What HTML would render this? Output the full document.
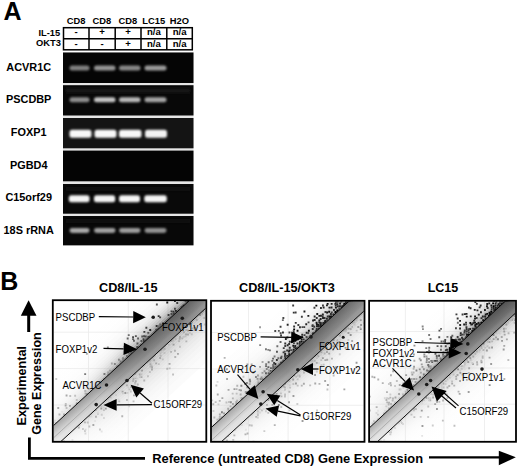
<!DOCTYPE html>
<html><head><meta charset="utf-8"><style>
html,body{margin:0;padding:0;background:#fff;width:520px;height:467px;overflow:hidden}
svg{display:block}
text{font-family:"Liberation Sans", sans-serif;fill:#000}
</style></head><body>
<svg width="520" height="467" viewBox="0 0 520 467">
<rect width="520" height="467" fill="#fff"/>
<text x="3.6" y="19.6" font-size="25" font-weight="bold">A</text>
<text x="76.0" y="24.2" font-size="9.35" font-weight="bold" text-anchor="middle">CD8</text>
<text x="101.9" y="24.2" font-size="9.35" font-weight="bold" text-anchor="middle">CD8</text>
<text x="127.9" y="24.2" font-size="9.35" font-weight="bold" text-anchor="middle">CD8</text>
<text x="153.7" y="24.2" font-size="9.35" font-weight="bold" text-anchor="middle">LC15</text>
<text x="179.4" y="24.2" font-size="9.35" font-weight="bold" text-anchor="middle">H2O</text>
<text x="60.2" y="35.5" font-size="9.3" font-weight="bold" text-anchor="end">IL-15</text>
<text x="61" y="46.4" font-size="9.35" font-weight="bold" text-anchor="end">OKT3</text>
<g stroke="#000" stroke-width="1.5" fill="none">
<rect x="63.5" y="27.7" width="128.8" height="22.1"/>
<line x1="63.5" y1="38.7" x2="192.3" y2="38.7"/>
<line x1="89" y1="27.7" x2="89" y2="49.8"/>
<line x1="115.2" y1="27.7" x2="115.2" y2="49.8"/>
<line x1="141" y1="27.7" x2="141" y2="49.8"/>
<line x1="166.8" y1="27.7" x2="166.8" y2="49.8"/>
</g>
<text x="76.2" y="35.4" font-size="9.6" font-weight="bold" text-anchor="middle">-</text>
<text x="76.2" y="46.8" font-size="9.6" font-weight="bold" text-anchor="middle">-</text>
<text x="102.1" y="35.4" font-size="9.6" font-weight="bold" text-anchor="middle">+</text>
<text x="102.1" y="46.8" font-size="9.6" font-weight="bold" text-anchor="middle">-</text>
<text x="128.1" y="35.4" font-size="9.6" font-weight="bold" text-anchor="middle">+</text>
<text x="128.1" y="46.8" font-size="9.6" font-weight="bold" text-anchor="middle">+</text>
<text x="153.9" y="35.4" font-size="9.6" font-weight="bold" text-anchor="middle">n/a</text>
<text x="153.9" y="46.8" font-size="9.6" font-weight="bold" text-anchor="middle">n/a</text>
<text x="179.6" y="35.4" font-size="9.6" font-weight="bold" text-anchor="middle">n/a</text>
<text x="179.6" y="46.8" font-size="9.6" font-weight="bold" text-anchor="middle">n/a</text>
<rect x="63" y="52" width="130.5" height="194" fill="#e6e6e6"/>
<rect x="63" y="52.5" width="130.5" height="30.5" fill="#050505"/>
<rect x="63" y="85.2" width="130.5" height="30.3" fill="#080808"/>
<rect x="63" y="118" width="130.5" height="30.3" fill="#141414"/>
<rect x="63" y="150.6" width="130.5" height="30.7" fill="#040404"/>
<rect x="63" y="184" width="130.5" height="29.7" fill="#090909"/>
<rect x="63" y="216" width="130.5" height="29.3" fill="#080808"/>
<defs><filter id="bl" x="-30%" y="-100%" width="160%" height="300%"><feGaussianBlur stdDeviation="0.9"/></filter><filter id="bl2" x="-30%" y="-100%" width="160%" height="300%"><feGaussianBlur stdDeviation="1.6"/></filter></defs>
<rect x="69.5" y="65.5" width="20.0" height="5.0" rx="2.5" fill="#808080" filter="url(#bl)"/>
<rect x="94" y="65.5" width="21.5" height="5.0" rx="2.5" fill="#949494" filter="url(#bl)"/>
<rect x="119" y="65.5" width="21.5" height="5.0" rx="2.5" fill="#888888" filter="url(#bl)"/>
<rect x="144.5" y="65.5" width="22.0" height="5.0" rx="2.5" fill="#9c9c9c" filter="url(#bl)"/>
<rect x="69.5" y="97.3" width="20.0" height="5.0" rx="2.5" fill="#8c8c8c" filter="url(#bl)"/>
<rect x="94" y="97.3" width="21.5" height="5.0" rx="2.5" fill="#c4c4c4" filter="url(#bl)"/>
<rect x="119" y="97.3" width="21.5" height="5.0" rx="2.5" fill="#b8b8b8" filter="url(#bl)"/>
<rect x="144.5" y="97.3" width="22.0" height="5.0" rx="2.5" fill="#a4a4a4" filter="url(#bl)"/>
<rect x="69.5" y="129.8" width="22.0" height="8.0" rx="2.5" fill="#f8f8f8" filter="url(#bl)"/>
<rect x="94.5" y="129.8" width="22.0" height="8.0" rx="2.5" fill="#f8f8f8" filter="url(#bl)"/>
<rect x="119" y="129.8" width="22.5" height="8.0" rx="2.5" fill="#f8f8f8" filter="url(#bl)"/>
<rect x="145" y="129.8" width="22" height="8.0" rx="2.5" fill="#f2f2f2" filter="url(#bl)"/>
<rect x="68.8" y="195.3" width="20.700000000000003" height="7.0" rx="2.5" fill="#f4f4f4" filter="url(#bl)"/>
<rect x="94" y="195.3" width="21.200000000000003" height="7.0" rx="2.5" fill="#f4f4f4" filter="url(#bl)"/>
<rect x="119" y="195.3" width="21" height="7.0" rx="2.5" fill="#f4f4f4" filter="url(#bl)"/>
<rect x="144.3" y="195.3" width="22.5" height="7.0" rx="2.5" fill="#f4f4f4" filter="url(#bl)"/>
<rect x="69.5" y="228.1" width="20.0" height="4.8" rx="2.5" fill="#a8a8a8" filter="url(#bl)"/>
<rect x="94" y="228.1" width="21.5" height="4.8" rx="2.5" fill="#a0a0a0" filter="url(#bl)"/>
<rect x="119" y="228.1" width="21.5" height="4.8" rx="2.5" fill="#9c9c9c" filter="url(#bl)"/>
<rect x="144.5" y="228.1" width="22.0" height="4.8" rx="2.5" fill="#909090" filter="url(#bl)"/>
<rect x="66" y="88.5" width="124" height="4" fill="#1c1c1c" filter="url(#bl2)"/>
<rect x="66" y="187" width="124" height="3.5" fill="#111" filter="url(#bl2)"/>
<rect x="66" y="219" width="124" height="3.5" fill="#101010" filter="url(#bl2)"/>
<text x="28.7" y="70.6" font-size="10.9" font-weight="bold" text-anchor="middle">ACVR1C</text>
<text x="28.7" y="103.1" font-size="10.9" font-weight="bold" text-anchor="middle">PSCDBP</text>
<text x="28.7" y="136" font-size="10.9" font-weight="bold" text-anchor="middle">FOXP1</text>
<text x="28.7" y="168.5" font-size="10.9" font-weight="bold" text-anchor="middle">PGBD4</text>
<text x="28.7" y="201.3" font-size="10.9" font-weight="bold" text-anchor="middle">C15orf29</text>
<text x="28.7" y="233.5" font-size="10.9" font-weight="bold" text-anchor="middle">18S rRNA</text>
<text x="0.3" y="290" font-size="25" font-weight="bold">B</text>
<text x="128.3" y="291.6" font-size="12.7" font-weight="bold" text-anchor="middle">CD8/IL-15</text>
<text x="287" y="291.7" font-size="12.7" font-weight="bold" text-anchor="middle">CD8/IL-15/OKT3</text>
<text x="443" y="291.6" font-size="12.5" font-weight="bold" text-anchor="middle">LC15</text>
<polygon points="28.6,300.3 20.8,315.7 36.5,315.7" fill="#000"/>
<rect x="27.2" y="314" width="3" height="18" fill="#000"/>
<text transform="translate(25.6,425.4) rotate(-90)" font-size="12.65" font-weight="bold">Experimental</text>
<text transform="translate(41.3,434.8) rotate(-90)" font-size="12.55" font-weight="bold">Gene Expression</text>
<path d="M29.4,437.6 V458.3 H145" stroke="#000" stroke-width="2.8" fill="none"/>
<text x="152.2" y="462.5" font-size="12.86" font-weight="bold">Reference (untreated CD8) Gene Expression</text>
<line x1="429" y1="457.3" x2="500" y2="457.3" stroke="#000" stroke-width="2.2"/>
<polygon points="498.8,450.8 515.8,457.3 498.8,465.3" fill="#000"/>
<clipPath id="clip1"><rect x="53.6" y="301" width="151.9" height="140"/></clipPath>
<rect x="53.6" y="301" width="151.9" height="140" fill="#fff"/>
<g clip-path="url(#clip1)">
<line x1="88.5" y1="301" x2="88.5" y2="441" stroke="#ebebeb" stroke-width="0.8"/>
<line x1="128.3" y1="301" x2="128.3" y2="441" stroke="#ebebeb" stroke-width="0.8"/>
<line x1="168" y1="301" x2="168" y2="441" stroke="#ebebeb" stroke-width="0.8"/>
<line x1="53.6" y1="332.2" x2="205.5" y2="332.2" stroke="#ebebeb" stroke-width="0.8"/>
<line x1="53.6" y1="368.6" x2="205.5" y2="368.6" stroke="#ebebeb" stroke-width="0.8"/>
<line x1="53.6" y1="405" x2="205.5" y2="405" stroke="#ebebeb" stroke-width="0.8"/>
<linearGradient id="gu1h0" gradientUnits="userSpaceOnUse" x1="53.6" y1="441" x2="205.5" y2="301"><stop offset="0" stop-color="#dcdcdc" stop-opacity="0.500"/><stop offset="0.3" stop-color="#bcbcbc" stop-opacity="0.750"/><stop offset="0.55" stop-color="#858585" stop-opacity="0.950"/><stop offset="0.8" stop-color="#707070" stop-opacity="0.950"/><stop offset="1" stop-color="#707070" stop-opacity="0.950"/></linearGradient>
<polygon points="30.6,450.7 232.5,264.9 229.1,261.3 27.2,447.0" fill="url(#gu1h0)"/>
<linearGradient id="gu1h1" gradientUnits="userSpaceOnUse" x1="53.6" y1="441" x2="205.5" y2="301"><stop offset="0" stop-color="#dcdcdc" stop-opacity="0.358"/><stop offset="0.3" stop-color="#bcbcbc" stop-opacity="0.489"/><stop offset="0.55" stop-color="#858585" stop-opacity="0.619"/><stop offset="0.8" stop-color="#707070" stop-opacity="0.619"/><stop offset="1" stop-color="#707070" stop-opacity="0.619"/></linearGradient>
<polygon points="27.2,447.0 229.1,261.3 227.8,259.8 25.9,445.5" fill="url(#gu1h1)"/>
<linearGradient id="gu1h2" gradientUnits="userSpaceOnUse" x1="53.6" y1="441" x2="205.5" y2="301"><stop offset="0" stop-color="#dcdcdc" stop-opacity="0.287"/><stop offset="0.3" stop-color="#bcbcbc" stop-opacity="0.367"/><stop offset="0.55" stop-color="#858585" stop-opacity="0.465"/><stop offset="0.8" stop-color="#707070" stop-opacity="0.465"/><stop offset="1" stop-color="#707070" stop-opacity="0.465"/></linearGradient>
<polygon points="25.9,445.5 227.8,259.8 226.4,258.3 24.5,444.1" fill="url(#gu1h2)"/>
<linearGradient id="gu1h3" gradientUnits="userSpaceOnUse" x1="53.6" y1="441" x2="205.5" y2="301"><stop offset="0" stop-color="#dcdcdc" stop-opacity="0.230"/><stop offset="0.3" stop-color="#bcbcbc" stop-opacity="0.276"/><stop offset="0.55" stop-color="#858585" stop-opacity="0.349"/><stop offset="0.8" stop-color="#707070" stop-opacity="0.349"/><stop offset="1" stop-color="#707070" stop-opacity="0.349"/></linearGradient>
<polygon points="24.5,444.1 226.4,258.3 225.1,256.9 23.2,442.6" fill="url(#gu1h3)"/>
<linearGradient id="gu1h4" gradientUnits="userSpaceOnUse" x1="53.6" y1="441" x2="205.5" y2="301"><stop offset="0" stop-color="#dcdcdc" stop-opacity="0.184"/><stop offset="0.3" stop-color="#bcbcbc" stop-opacity="0.207"/><stop offset="0.55" stop-color="#858585" stop-opacity="0.263"/><stop offset="0.8" stop-color="#707070" stop-opacity="0.263"/><stop offset="1" stop-color="#707070" stop-opacity="0.263"/></linearGradient>
<polygon points="23.2,442.6 225.1,256.9 223.7,255.4 21.8,441.1" fill="url(#gu1h4)"/>
<linearGradient id="gu1h5" gradientUnits="userSpaceOnUse" x1="53.6" y1="441" x2="205.5" y2="301"><stop offset="0" stop-color="#dcdcdc" stop-opacity="0.147"/><stop offset="0.3" stop-color="#bcbcbc" stop-opacity="0.156"/><stop offset="0.55" stop-color="#858585" stop-opacity="0.197"/><stop offset="0.8" stop-color="#707070" stop-opacity="0.197"/><stop offset="1" stop-color="#707070" stop-opacity="0.197"/></linearGradient>
<polygon points="21.8,441.1 223.7,255.4 222.4,253.9 20.5,439.7" fill="url(#gu1h5)"/>
<linearGradient id="gu1h6" gradientUnits="userSpaceOnUse" x1="53.6" y1="441" x2="205.5" y2="301"><stop offset="0" stop-color="#dcdcdc" stop-opacity="0.118"/><stop offset="0.3" stop-color="#bcbcbc" stop-opacity="0.117"/><stop offset="0.55" stop-color="#858585" stop-opacity="0.148"/><stop offset="0.8" stop-color="#707070" stop-opacity="0.148"/><stop offset="1" stop-color="#707070" stop-opacity="0.148"/></linearGradient>
<polygon points="20.5,439.7 222.4,253.9 221.0,252.4 19.1,438.2" fill="url(#gu1h6)"/>
<linearGradient id="gu1h7" gradientUnits="userSpaceOnUse" x1="53.6" y1="441" x2="205.5" y2="301"><stop offset="0" stop-color="#dcdcdc" stop-opacity="0.089"/><stop offset="0.3" stop-color="#bcbcbc" stop-opacity="0.082"/><stop offset="0.55" stop-color="#858585" stop-opacity="0.104"/><stop offset="0.8" stop-color="#707070" stop-opacity="0.104"/><stop offset="1" stop-color="#707070" stop-opacity="0.104"/></linearGradient>
<polygon points="19.1,438.2 221.0,252.4 219.0,250.2 17.1,436.0" fill="url(#gu1h7)"/>
<linearGradient id="gu1h8" gradientUnits="userSpaceOnUse" x1="53.6" y1="441" x2="205.5" y2="301"><stop offset="0" stop-color="#dcdcdc" stop-opacity="0.064"/><stop offset="0.3" stop-color="#bcbcbc" stop-opacity="0.053"/><stop offset="0.55" stop-color="#858585" stop-opacity="0.068"/><stop offset="0.8" stop-color="#707070" stop-opacity="0.068"/><stop offset="1" stop-color="#707070" stop-opacity="0.068"/></linearGradient>
<polygon points="17.1,436.0 219.0,250.2 217.0,248.0 15.1,433.8" fill="url(#gu1h8)"/>
<linearGradient id="gu1h9" gradientUnits="userSpaceOnUse" x1="53.6" y1="441" x2="205.5" y2="301"><stop offset="0" stop-color="#dcdcdc" stop-opacity="0.043"/><stop offset="0.3" stop-color="#bcbcbc" stop-opacity="0.032"/><stop offset="0.55" stop-color="#858585" stop-opacity="0.041"/><stop offset="0.8" stop-color="#707070" stop-opacity="0.041"/><stop offset="1" stop-color="#707070" stop-opacity="0.041"/></linearGradient>
<polygon points="15.1,433.8 217.0,248.0 214.3,245.1 12.4,430.8" fill="url(#gu1h9)"/>
<linearGradient id="gu1h10" gradientUnits="userSpaceOnUse" x1="53.6" y1="441" x2="205.5" y2="301"><stop offset="0" stop-color="#dcdcdc" stop-opacity="0.028"/><stop offset="0.3" stop-color="#bcbcbc" stop-opacity="0.018"/><stop offset="0.55" stop-color="#858585" stop-opacity="0.023"/><stop offset="0.8" stop-color="#707070" stop-opacity="0.023"/><stop offset="1" stop-color="#707070" stop-opacity="0.023"/></linearGradient>
<polygon points="12.4,430.8 214.3,245.1 211.5,242.1 9.6,427.9" fill="url(#gu1h10)"/>
<linearGradient id="gu1h11" gradientUnits="userSpaceOnUse" x1="53.6" y1="441" x2="205.5" y2="301"><stop offset="0" stop-color="#dcdcdc" stop-opacity="0.017"/><stop offset="0.3" stop-color="#bcbcbc" stop-opacity="0.010"/><stop offset="0.55" stop-color="#858585" stop-opacity="0.012"/><stop offset="0.8" stop-color="#707070" stop-opacity="0.012"/><stop offset="1" stop-color="#707070" stop-opacity="0.012"/></linearGradient>
<polygon points="9.6,427.9 211.5,242.1 208.2,238.5 6.3,424.2" fill="url(#gu1h11)"/>
<linearGradient id="gu1h12" gradientUnits="userSpaceOnUse" x1="53.6" y1="441" x2="205.5" y2="301"><stop offset="0" stop-color="#dcdcdc" stop-opacity="0.009"/><stop offset="0.3" stop-color="#bcbcbc" stop-opacity="0.004"/><stop offset="0.55" stop-color="#858585" stop-opacity="0.005"/><stop offset="0.8" stop-color="#707070" stop-opacity="0.005"/><stop offset="1" stop-color="#707070" stop-opacity="0.005"/></linearGradient>
<polygon points="6.3,424.2 208.2,238.5 203.4,233.3 1.5,419.1" fill="url(#gu1h12)"/>
<path fill="rgb(24,24,24)" d="M189.3 300.0h1.9v1.9h-1.9zM166.3 301.5h1.9v1.9h-1.9zM182.7 304.7h1.9v1.9h-1.9z"/>
<path fill="rgb(36,36,36)" d="M174.9 309.9h1.9v1.9h-1.9zM160.2 327.1h1.9v1.9h-1.9zM149.3 329.0h1.9v1.9h-1.9z"/>
<path fill="rgb(48,48,48)" d="M174.0 300.0h1.9v1.9h-1.9zM190.7 299.8h1.9v1.9h-1.9zM189.3 302.0h1.9v1.9h-1.9zM183.1 306.7h1.9v1.9h-1.9zM185.4 306.0h1.9v1.9h-1.9zM172.5 310.7h1.9v1.9h-1.9zM180.1 310.2h1.9v1.9h-1.9zM178.6 312.1h1.9v1.9h-1.9zM157.7 315.2h1.9v1.9h-1.9zM161.9 322.6h1.9v1.9h-1.9zM155.7 325.0h1.9v1.9h-1.9zM164.4 324.7h1.9v1.9h-1.9zM134.2 352.5h1.9v1.9h-1.9z"/>
<path fill="rgb(60,60,60)" d="M186.7 300.4h1.9v1.9h-1.9zM176.3 302.0h1.9v1.9h-1.9zM186.6 301.5h1.9v1.9h-1.9zM180.8 306.2h1.9v1.9h-1.9zM180.4 308.2h1.9v1.9h-1.9zM170.6 310.4h1.9v1.9h-1.9zM172.7 312.6h1.9v1.9h-1.9zM176.9 312.8h1.9v1.9h-1.9zM167.6 314.1h1.9v1.9h-1.9zM174.7 314.5h1.9v1.9h-1.9zM159.2 316.4h1.9v1.9h-1.9zM145.4 326.8h1.9v1.9h-1.9zM161.9 327.0h1.9v1.9h-1.9zM143.4 330.9h1.9v1.9h-1.9zM147.5 335.9h1.9v1.9h-1.9zM142.6 338.3h1.9v1.9h-1.9zM143.0 340.2h1.9v1.9h-1.9zM147.6 339.4h1.9v1.9h-1.9z"/>
<path fill="rgb(72,72,72)" d="M186.5 303.7h1.9v1.9h-1.9zM174.0 307.8h1.9v1.9h-1.9zM182.9 307.8h1.9v1.9h-1.9zM170.5 313.1h1.9v1.9h-1.9zM172.4 316.6h1.9v1.9h-1.9zM174.1 316.5h1.9v1.9h-1.9zM168.0 319.4h1.9v1.9h-1.9zM170.6 318.9h1.9v1.9h-1.9zM167.5 320.6h1.9v1.9h-1.9zM155.3 328.8h1.9v1.9h-1.9zM157.5 329.3h1.9v1.9h-1.9zM159.6 328.9h1.9v1.9h-1.9zM155.2 331.8h1.9v1.9h-1.9zM155.8 333.2h1.9v1.9h-1.9zM132.1 336.2h1.9v1.9h-1.9zM143.1 335.3h1.9v1.9h-1.9zM144.7 335.5h1.9v1.9h-1.9zM149.1 336.1h1.9v1.9h-1.9zM146.8 337.8h1.9v1.9h-1.9zM144.6 339.5h1.9v1.9h-1.9zM149.1 339.4h1.9v1.9h-1.9zM143.1 341.6h1.9v1.9h-1.9zM136.3 346.0h1.9v1.9h-1.9zM126.1 347.8h1.9v1.9h-1.9zM139.0 348.6h1.9v1.9h-1.9z"/>
<path fill="rgb(84,84,84)" d="M184.6 300.1h1.9v1.9h-1.9zM155.9 303.6h1.9v1.9h-1.9zM163.7 322.9h1.9v1.9h-1.9zM162.1 325.1h1.9v1.9h-1.9zM157.4 327.4h1.9v1.9h-1.9zM147.3 331.9h1.9v1.9h-1.9zM153.8 331.6h1.9v1.9h-1.9zM157.4 331.5h1.9v1.9h-1.9zM134.9 335.2h1.9v1.9h-1.9zM141.3 335.6h1.9v1.9h-1.9zM149.8 337.4h1.9v1.9h-1.9zM140.5 340.0h1.9v1.9h-1.9zM136.5 342.5h1.9v1.9h-1.9zM144.9 342.2h1.9v1.9h-1.9zM140.2 344.3h1.9v1.9h-1.9zM134.9 350.8h1.9v1.9h-1.9zM132.6 353.0h1.9v1.9h-1.9z"/>
<path fill="rgb(96,96,96)" d="M159.3 323.6h1.9v1.9h-1.9zM126.7 337.6h1.9v1.9h-1.9zM132.1 338.2h1.9v1.9h-1.9zM137.1 337.5h1.9v1.9h-1.9zM145.5 338.2h1.9v1.9h-1.9zM133.0 339.8h1.9v1.9h-1.9zM123.7 345.9h1.9v1.9h-1.9zM138.2 346.8h1.9v1.9h-1.9zM137.0 348.2h1.9v1.9h-1.9zM130.2 351.0h1.9v1.9h-1.9zM130.3 352.8h1.9v1.9h-1.9zM127.8 356.5h1.9v1.9h-1.9zM125.5 360.6h1.9v1.9h-1.9zM117.7 364.9h1.9v1.9h-1.9z"/>
<path fill="rgb(108,108,108)" d="M157.9 325.2h1.9v1.9h-1.9zM159.4 325.5h1.9v1.9h-1.9zM127.8 334.2h1.9v1.9h-1.9zM153.3 333.7h1.9v1.9h-1.9zM126.2 350.4h1.9v1.9h-1.9zM128.3 352.9h1.9v1.9h-1.9zM126.1 355.0h1.9v1.9h-1.9zM132.9 354.2h1.9v1.9h-1.9zM129.8 357.1h1.9v1.9h-1.9zM121.8 363.1h1.9v1.9h-1.9zM103.5 378.3h1.9v1.9h-1.9z"/>
<path fill="rgb(120,120,120)" d="M127.7 354.6h1.9v1.9h-1.9zM128.5 358.4h1.9v1.9h-1.9zM119.7 360.5h1.9v1.9h-1.9zM124.1 361.3h1.9v1.9h-1.9zM113.8 369.8h1.9v1.9h-1.9zM84.2 373.2h1.9v1.9h-1.9zM103.5 373.0h1.9v1.9h-1.9zM111.9 373.8h1.9v1.9h-1.9zM109.4 375.1h1.9v1.9h-1.9z"/>
<path fill="rgb(132,132,132)" d="M122.1 357.3h1.9v1.9h-1.9zM118.0 358.8h1.9v1.9h-1.9zM122.1 358.8h1.9v1.9h-1.9zM122.1 360.9h1.9v1.9h-1.9zM113.9 363.0h1.9v1.9h-1.9zM119.8 362.6h1.9v1.9h-1.9zM116.0 365.6h1.9v1.9h-1.9zM107.4 373.4h1.9v1.9h-1.9zM109.9 373.2h1.9v1.9h-1.9zM107.5 375.3h1.9v1.9h-1.9zM98.9 382.3h1.9v1.9h-1.9zM86.1 394.4h1.9v1.9h-1.9z"/>
<path fill="rgb(144,144,144)" d="M106.9 346.6h1.9v1.9h-1.9zM126.3 359.2h1.9v1.9h-1.9zM117.8 366.7h1.9v1.9h-1.9zM111.5 370.8h1.9v1.9h-1.9zM107.1 377.9h1.9v1.9h-1.9zM104.8 379.7h1.9v1.9h-1.9zM100.5 384.0h1.9v1.9h-1.9zM95.1 387.8h1.9v1.9h-1.9zM90.6 389.9h1.9v1.9h-1.9zM85.9 393.0h1.9v1.9h-1.9zM75.9 402.4h1.9v1.9h-1.9z"/>
<path fill="rgb(156,156,156)" d="M109.1 369.7h1.9v1.9h-1.9zM111.6 369.7h1.9v1.9h-1.9zM107.3 371.4h1.9v1.9h-1.9zM101.4 381.9h1.9v1.9h-1.9zM92.4 388.5h1.9v1.9h-1.9zM92.0 390.8h1.9v1.9h-1.9zM88.8 394.6h1.9v1.9h-1.9zM52.4 421.6h1.9v1.9h-1.9z"/>
<path fill="rgb(168,168,168)" d="M85.9 352.9h1.9v1.9h-1.9zM110.9 362.6h1.9v1.9h-1.9zM84.6 392.5h1.9v1.9h-1.9zM65.6 394.6h1.9v1.9h-1.9zM80.1 400.7h1.9v1.9h-1.9zM77.7 402.6h1.9v1.9h-1.9zM64.7 404.7h1.9v1.9h-1.9zM69.0 404.9h1.9v1.9h-1.9zM57.3 407.1h1.9v1.9h-1.9zM63.1 413.6h1.9v1.9h-1.9zM66.7 413.0h1.9v1.9h-1.9zM63.6 416.0h1.9v1.9h-1.9z"/>
<path fill="rgb(180,180,180)" d="M96.3 383.9h1.9v1.9h-1.9zM87.9 388.1h1.9v1.9h-1.9zM84.3 390.0h1.9v1.9h-1.9zM84.3 398.9h1.9v1.9h-1.9zM73.1 407.3h1.9v1.9h-1.9zM73.0 408.7h1.9v1.9h-1.9zM58.5 413.5h1.9v1.9h-1.9zM65.7 415.9h1.9v1.9h-1.9z"/>
<path fill="rgb(192,192,192)" d="M69.3 395.0h1.9v1.9h-1.9zM74.2 394.8h1.9v1.9h-1.9zM86.6 396.1h1.9v1.9h-1.9zM75.8 399.0h1.9v1.9h-1.9zM82.2 401.1h1.9v1.9h-1.9zM64.8 403.1h1.9v1.9h-1.9zM80.0 402.3h1.9v1.9h-1.9zM75.2 405.2h1.9v1.9h-1.9zM77.8 404.6h1.9v1.9h-1.9zM65.6 407.1h1.9v1.9h-1.9zM69.6 411.8h1.9v1.9h-1.9zM63.4 417.8h1.9v1.9h-1.9zM55.2 421.9h1.9v1.9h-1.9zM56.7 424.4h1.9v1.9h-1.9zM53.2 426.3h1.9v1.9h-1.9z"/>
<path fill="rgb(204,204,204)" d="M55.3 378.0h1.9v1.9h-1.9zM85.8 390.6h1.9v1.9h-1.9z"/>
<path fill="rgb(216,216,216)" d="M82.5 398.4h1.9v1.9h-1.9zM54.1 419.7h1.9v1.9h-1.9z"/>
<path fill="rgb(228,228,228)" d="M61.2 410.9h1.9v1.9h-1.9zM65.0 413.1h1.9v1.9h-1.9zM56.4 419.7h1.9v1.9h-1.9zM54.2 424.5h1.9v1.9h-1.9z"/>
<linearGradient id="gl1h0" gradientUnits="userSpaceOnUse" x1="53.6" y1="441" x2="205.5" y2="301"><stop offset="0" stop-color="#e0e0e0" stop-opacity="0.300"/><stop offset="0.3" stop-color="#c8c8c8" stop-opacity="0.900"/><stop offset="0.6" stop-color="#b8b8b8" stop-opacity="0.950"/><stop offset="1" stop-color="#b4b4b4" stop-opacity="0.950"/></linearGradient>
<polygon points="26.6,469.0 228.5,283.2 231.9,286.9 30.0,472.7" fill="url(#gl1h0)"/>
<linearGradient id="gl1h1" gradientUnits="userSpaceOnUse" x1="53.6" y1="441" x2="205.5" y2="301"><stop offset="0" stop-color="#e0e0e0" stop-opacity="0.182"/><stop offset="0.3" stop-color="#c8c8c8" stop-opacity="0.685"/><stop offset="0.6" stop-color="#b8b8b8" stop-opacity="0.754"/><stop offset="1" stop-color="#b4b4b4" stop-opacity="0.754"/></linearGradient>
<polygon points="30.0,472.7 231.9,286.9 233.2,288.4 31.3,474.1" fill="url(#gl1h1)"/>
<linearGradient id="gl1h2" gradientUnits="userSpaceOnUse" x1="53.6" y1="441" x2="205.5" y2="301"><stop offset="0" stop-color="#e0e0e0" stop-opacity="0.130"/><stop offset="0.3" stop-color="#c8c8c8" stop-opacity="0.571"/><stop offset="0.6" stop-color="#b8b8b8" stop-opacity="0.647"/><stop offset="1" stop-color="#b4b4b4" stop-opacity="0.647"/></linearGradient>
<polygon points="31.3,474.1 233.2,288.4 234.6,289.9 32.7,475.6" fill="url(#gl1h2)"/>
<linearGradient id="gl1h3" gradientUnits="userSpaceOnUse" x1="53.6" y1="441" x2="205.5" y2="301"><stop offset="0" stop-color="#e0e0e0" stop-opacity="0.093"/><stop offset="0.3" stop-color="#c8c8c8" stop-opacity="0.476"/><stop offset="0.6" stop-color="#b8b8b8" stop-opacity="0.554"/><stop offset="1" stop-color="#b4b4b4" stop-opacity="0.554"/></linearGradient>
<polygon points="32.7,475.6 234.6,289.9 235.9,291.3 34.0,477.1" fill="url(#gl1h3)"/>
<linearGradient id="gl1h4" gradientUnits="userSpaceOnUse" x1="53.6" y1="441" x2="205.5" y2="301"><stop offset="0" stop-color="#e0e0e0" stop-opacity="0.067"/><stop offset="0.3" stop-color="#c8c8c8" stop-opacity="0.397"/><stop offset="0.6" stop-color="#b8b8b8" stop-opacity="0.475"/><stop offset="1" stop-color="#b4b4b4" stop-opacity="0.475"/></linearGradient>
<polygon points="34.0,477.1 235.9,291.3 237.3,292.8 35.4,478.5" fill="url(#gl1h4)"/>
<linearGradient id="gl1h5" gradientUnits="userSpaceOnUse" x1="53.6" y1="441" x2="205.5" y2="301"><stop offset="0" stop-color="#e0e0e0" stop-opacity="0.048"/><stop offset="0.3" stop-color="#c8c8c8" stop-opacity="0.331"/><stop offset="0.6" stop-color="#b8b8b8" stop-opacity="0.408"/><stop offset="1" stop-color="#b4b4b4" stop-opacity="0.408"/></linearGradient>
<polygon points="35.4,478.5 237.3,292.8 238.6,294.3 36.7,480.0" fill="url(#gl1h5)"/>
<linearGradient id="gl1h6" gradientUnits="userSpaceOnUse" x1="53.6" y1="441" x2="205.5" y2="301"><stop offset="0" stop-color="#e0e0e0" stop-opacity="0.034"/><stop offset="0.3" stop-color="#c8c8c8" stop-opacity="0.276"/><stop offset="0.6" stop-color="#b8b8b8" stop-opacity="0.349"/><stop offset="1" stop-color="#b4b4b4" stop-opacity="0.349"/></linearGradient>
<polygon points="36.7,480.0 238.6,294.3 240.0,295.7 38.1,481.5" fill="url(#gl1h6)"/>
<linearGradient id="gl1h7" gradientUnits="userSpaceOnUse" x1="53.6" y1="441" x2="205.5" y2="301"><stop offset="0" stop-color="#e0e0e0" stop-opacity="0.023"/><stop offset="0.3" stop-color="#c8c8c8" stop-opacity="0.220"/><stop offset="0.6" stop-color="#b8b8b8" stop-opacity="0.288"/><stop offset="1" stop-color="#b4b4b4" stop-opacity="0.288"/></linearGradient>
<polygon points="38.1,481.5 240.0,295.7 242.0,298.0 40.1,483.7" fill="url(#gl1h7)"/>
<linearGradient id="gl1h8" gradientUnits="userSpaceOnUse" x1="53.6" y1="441" x2="205.5" y2="301"><stop offset="0" stop-color="#e0e0e0" stop-opacity="0.014"/><stop offset="0.3" stop-color="#c8c8c8" stop-opacity="0.167"/><stop offset="0.6" stop-color="#b8b8b8" stop-opacity="0.229"/><stop offset="1" stop-color="#b4b4b4" stop-opacity="0.229"/></linearGradient>
<polygon points="40.1,483.7 242.0,298.0 244.0,300.2 42.1,485.9" fill="url(#gl1h8)"/>
<linearGradient id="gl1h9" gradientUnits="userSpaceOnUse" x1="53.6" y1="441" x2="205.5" y2="301"><stop offset="0" stop-color="#e0e0e0" stop-opacity="0.008"/><stop offset="0.3" stop-color="#c8c8c8" stop-opacity="0.122"/><stop offset="0.6" stop-color="#b8b8b8" stop-opacity="0.175"/><stop offset="1" stop-color="#b4b4b4" stop-opacity="0.175"/></linearGradient>
<polygon points="42.1,485.9 244.0,300.2 246.7,303.1 44.8,488.9" fill="url(#gl1h9)"/>
<linearGradient id="gl1h10" gradientUnits="userSpaceOnUse" x1="53.6" y1="441" x2="205.5" y2="301"><stop offset="0" stop-color="#e0e0e0" stop-opacity="0.004"/><stop offset="0.3" stop-color="#c8c8c8" stop-opacity="0.085"/><stop offset="0.6" stop-color="#b8b8b8" stop-opacity="0.129"/><stop offset="1" stop-color="#b4b4b4" stop-opacity="0.129"/></linearGradient>
<polygon points="44.8,488.9 246.7,303.1 249.5,306.0 47.6,491.8" fill="url(#gl1h10)"/>
<linearGradient id="gl1h11" gradientUnits="userSpaceOnUse" x1="53.6" y1="441" x2="205.5" y2="301"><stop offset="0" stop-color="#e0e0e0" stop-opacity="0.002"/><stop offset="0.3" stop-color="#c8c8c8" stop-opacity="0.056"/><stop offset="0.6" stop-color="#b8b8b8" stop-opacity="0.091"/><stop offset="1" stop-color="#b4b4b4" stop-opacity="0.091"/></linearGradient>
<polygon points="47.6,491.8 249.5,306.0 252.8,309.7 50.9,495.5" fill="url(#gl1h11)"/>
<linearGradient id="gl1h12" gradientUnits="userSpaceOnUse" x1="53.6" y1="441" x2="205.5" y2="301"><stop offset="0" stop-color="#e0e0e0" stop-opacity="0.001"/><stop offset="0.3" stop-color="#c8c8c8" stop-opacity="0.033"/><stop offset="0.6" stop-color="#b8b8b8" stop-opacity="0.057"/><stop offset="1" stop-color="#b4b4b4" stop-opacity="0.057"/></linearGradient>
<polygon points="50.9,495.5 252.8,309.7 257.6,314.9 55.7,500.6" fill="url(#gl1h12)"/>
<path fill="rgb(132,132,132)" d="M193.6 326.9h1.9v1.9h-1.9z"/>
<path fill="rgb(144,144,144)" d="M199.2 314.1h1.9v1.9h-1.9zM190.8 321.4h1.9v1.9h-1.9z"/>
<path fill="rgb(156,156,156)" d="M205.9 308.0h1.9v1.9h-1.9zM202.2 310.7h1.9v1.9h-1.9zM172.6 343.7h1.9v1.9h-1.9zM159.8 348.9h1.9v1.9h-1.9zM141.1 369.5h1.9v1.9h-1.9zM124.4 392.0h1.9v1.9h-1.9zM100.4 407.5h1.9v1.9h-1.9zM104.8 407.7h1.9v1.9h-1.9z"/>
<path fill="rgb(168,168,168)" d="M201.1 312.5h1.9v1.9h-1.9zM195.7 318.8h1.9v1.9h-1.9zM191.6 327.6h1.9v1.9h-1.9zM185.3 328.9h1.9v1.9h-1.9zM187.0 329.6h1.9v1.9h-1.9zM182.9 331.3h1.9v1.9h-1.9zM185.1 333.6h1.9v1.9h-1.9zM187.0 333.5h1.9v1.9h-1.9zM179.0 336.1h1.9v1.9h-1.9zM178.7 337.9h1.9v1.9h-1.9zM170.5 340.1h1.9v1.9h-1.9zM163.6 347.9h1.9v1.9h-1.9zM177.0 352.9h1.9v1.9h-1.9zM159.2 357.0h1.9v1.9h-1.9zM149.7 358.8h1.9v1.9h-1.9zM153.2 359.3h1.9v1.9h-1.9zM149.5 363.3h1.9v1.9h-1.9zM155.2 362.4h1.9v1.9h-1.9zM168.6 362.9h1.9v1.9h-1.9zM150.8 365.6h1.9v1.9h-1.9zM151.1 366.7h1.9v1.9h-1.9zM151.0 368.7h1.9v1.9h-1.9zM134.2 373.0h1.9v1.9h-1.9zM138.8 373.5h1.9v1.9h-1.9zM140.5 376.2h1.9v1.9h-1.9zM132.5 378.1h1.9v1.9h-1.9zM134.8 380.3h1.9v1.9h-1.9zM125.9 384.4h1.9v1.9h-1.9zM121.6 390.7h1.9v1.9h-1.9zM133.0 394.4h1.9v1.9h-1.9zM92.4 424.0h1.9v1.9h-1.9z"/>
<path fill="rgb(180,180,180)" d="M205.4 310.2h1.9v1.9h-1.9zM203.3 317.0h1.9v1.9h-1.9zM189.3 325.1h1.9v1.9h-1.9zM193.1 325.0h1.9v1.9h-1.9zM199.7 324.9h1.9v1.9h-1.9zM193.6 329.0h1.9v1.9h-1.9zM174.6 338.1h1.9v1.9h-1.9zM181.3 337.4h1.9v1.9h-1.9zM172.0 339.4h1.9v1.9h-1.9zM178.1 340.2h1.9v1.9h-1.9zM185.4 340.4h1.9v1.9h-1.9zM167.7 343.5h1.9v1.9h-1.9zM162.3 348.7h1.9v1.9h-1.9zM170.1 350.9h1.9v1.9h-1.9zM174.0 349.8h1.9v1.9h-1.9zM159.1 351.9h1.9v1.9h-1.9zM153.3 354.9h1.9v1.9h-1.9zM159.7 354.8h1.9v1.9h-1.9zM151.7 357.3h1.9v1.9h-1.9zM174.3 356.1h1.9v1.9h-1.9zM148.8 360.6h1.9v1.9h-1.9zM149.5 365.5h1.9v1.9h-1.9zM166.3 367.8h1.9v1.9h-1.9zM134.8 377.2h1.9v1.9h-1.9zM132.1 380.0h1.9v1.9h-1.9zM143.3 379.6h1.9v1.9h-1.9zM134.2 382.1h1.9v1.9h-1.9zM136.8 383.5h1.9v1.9h-1.9zM130.1 386.2h1.9v1.9h-1.9zM132.4 386.0h1.9v1.9h-1.9zM109.5 396.9h1.9v1.9h-1.9zM111.2 405.2h1.9v1.9h-1.9zM94.8 409.2h1.9v1.9h-1.9zM95.0 415.8h1.9v1.9h-1.9zM121.3 415.3h1.9v1.9h-1.9zM84.0 421.4h1.9v1.9h-1.9zM77.8 426.6h1.9v1.9h-1.9z"/>
<path fill="rgb(192,192,192)" d="M205.7 306.4h1.9v1.9h-1.9zM188.9 322.8h1.9v1.9h-1.9zM203.9 323.5h1.9v1.9h-1.9zM188.8 331.9h1.9v1.9h-1.9zM190.8 333.3h1.9v1.9h-1.9zM182.6 335.9h1.9v1.9h-1.9zM184.6 335.4h1.9v1.9h-1.9zM179.0 345.8h1.9v1.9h-1.9zM159.9 351.0h1.9v1.9h-1.9zM156.1 351.9h1.9v1.9h-1.9zM163.5 352.1h1.9v1.9h-1.9zM150.9 358.9h1.9v1.9h-1.9zM161.8 358.4h1.9v1.9h-1.9zM157.8 363.2h1.9v1.9h-1.9zM168.7 367.4h1.9v1.9h-1.9zM138.4 369.1h1.9v1.9h-1.9zM148.9 371.0h1.9v1.9h-1.9zM140.5 373.5h1.9v1.9h-1.9zM172.1 373.6h1.9v1.9h-1.9zM132.4 375.9h1.9v1.9h-1.9zM139.2 376.2h1.9v1.9h-1.9zM147.0 375.3h1.9v1.9h-1.9zM128.5 388.4h1.9v1.9h-1.9zM129.9 390.5h1.9v1.9h-1.9zM105.1 399.3h1.9v1.9h-1.9zM107.5 398.4h1.9v1.9h-1.9zM126.0 399.0h1.9v1.9h-1.9zM118.3 400.4h1.9v1.9h-1.9zM132.6 400.4h1.9v1.9h-1.9zM107.4 403.4h1.9v1.9h-1.9zM109.2 403.0h1.9v1.9h-1.9zM100.5 405.2h1.9v1.9h-1.9zM112.0 406.8h1.9v1.9h-1.9zM103.0 409.2h1.9v1.9h-1.9zM88.7 415.4h1.9v1.9h-1.9zM86.8 421.5h1.9v1.9h-1.9zM88.4 425.6h1.9v1.9h-1.9z"/>
<path fill="rgb(204,204,204)" d="M184.7 327.4h1.9v1.9h-1.9zM167.9 341.9h1.9v1.9h-1.9zM166.1 344.5h1.9v1.9h-1.9zM168.6 346.4h1.9v1.9h-1.9zM167.8 348.4h1.9v1.9h-1.9zM157.9 352.4h1.9v1.9h-1.9zM155.9 354.0h1.9v1.9h-1.9zM145.2 363.3h1.9v1.9h-1.9zM140.5 367.5h1.9v1.9h-1.9zM135.1 376.1h1.9v1.9h-1.9zM136.6 377.7h1.9v1.9h-1.9zM134.2 383.4h1.9v1.9h-1.9zM127.6 386.7h1.9v1.9h-1.9zM117.4 388.5h1.9v1.9h-1.9zM122.0 392.4h1.9v1.9h-1.9zM126.6 391.9h1.9v1.9h-1.9zM115.1 394.1h1.9v1.9h-1.9zM107.6 401.3h1.9v1.9h-1.9zM102.7 406.5h1.9v1.9h-1.9zM90.2 413.0h1.9v1.9h-1.9zM97.0 413.0h1.9v1.9h-1.9zM100.8 413.8h1.9v1.9h-1.9zM78.4 424.3h1.9v1.9h-1.9zM82.0 428.1h1.9v1.9h-1.9zM99.0 428.5h1.9v1.9h-1.9zM84.0 430.0h1.9v1.9h-1.9zM63.0 440.3h1.9v1.9h-1.9z"/>
<path fill="rgb(216,216,216)" d="M142.6 371.4h1.9v1.9h-1.9zM109.4 398.2h1.9v1.9h-1.9zM117.7 398.4h1.9v1.9h-1.9zM128.2 405.4h1.9v1.9h-1.9zM97.0 411.7h1.9v1.9h-1.9zM90.4 415.3h1.9v1.9h-1.9zM103.0 417.0h1.9v1.9h-1.9zM84.6 428.7h1.9v1.9h-1.9zM84.5 432.5h1.9v1.9h-1.9zM61.1 440.6h1.9v1.9h-1.9zM65.0 441.3h1.9v1.9h-1.9zM82.3 441.0h1.9v1.9h-1.9z"/>
<path fill="rgb(228,228,228)" d="M134.8 391.9h1.9v1.9h-1.9zM101.0 403.3h1.9v1.9h-1.9zM94.1 420.0h1.9v1.9h-1.9zM100.7 430.6h1.9v1.9h-1.9zM71.5 439.0h1.9v1.9h-1.9z"/>
<linearGradient id="bg1" gradientUnits="userSpaceOnUse" x1="53.6" y1="441" x2="205.5" y2="301"><stop offset="0" stop-color="#e6e6e6"/><stop offset="0.3" stop-color="#c8c8c8"/><stop offset="0.45" stop-color="#a0a0a0"/><stop offset="0.6" stop-color="#8a8a8a"/><stop offset="0.85" stop-color="#7c7c7c"/><stop offset="1" stop-color="#888"/></linearGradient>
<polygon points="33.6,443.9 225.5,267.3 225.5,290.0 33.6,466.6" fill="url(#bg1)"/>
<linearGradient id="bp1" gradientUnits="userSpaceOnUse" x1="129.6" y1="355.6" x2="140.9" y2="367.9"><stop offset="0" stop-color="#000" stop-opacity="0.25"/><stop offset="0.5" stop-color="#000" stop-opacity="0.05"/><stop offset="0.75" stop-color="#fff" stop-opacity="0.1"/><stop offset="1" stop-color="#fff" stop-opacity="0.15"/></linearGradient>
<polygon points="33.6,443.9 225.5,267.3 225.5,290.0 33.6,466.6" fill="url(#bp1)"/>
<linearGradient id="cl1" gradientUnits="userSpaceOnUse" x1="53.6" y1="441" x2="205.5" y2="301"><stop offset="0" stop-color="#888" stop-opacity="0.55"/><stop offset="0.35" stop-color="#888" stop-opacity="0.4"/><stop offset="0.55" stop-color="#888" stop-opacity="0"/></linearGradient>
<line x1="33.6" y1="456.2" x2="225.5" y2="279.7" stroke="url(#cl1)" stroke-width="1"/>
<line x1="33.6" y1="443.9" x2="225.5" y2="267.3" stroke="#000" stroke-width="0.95"/>
<line x1="33.6" y1="466.6" x2="225.5" y2="290.0" stroke="#000" stroke-width="0.95"/>
</g>
<rect x="52.800000000000004" y="300.2" width="153.5" height="141.6" fill="none" stroke="#000" stroke-width="1.8"/>
<clipPath id="clip2"><rect x="211.8" y="301.6" width="151.89999999999998" height="139.39999999999998"/></clipPath>
<rect x="211.8" y="301.6" width="151.89999999999998" height="139.39999999999998" fill="#fff"/>
<g clip-path="url(#clip2)">
<line x1="248.5" y1="301.6" x2="248.5" y2="441" stroke="#ebebeb" stroke-width="0.8"/>
<line x1="288.1" y1="301.6" x2="288.1" y2="441" stroke="#ebebeb" stroke-width="0.8"/>
<line x1="329.9" y1="301.6" x2="329.9" y2="441" stroke="#ebebeb" stroke-width="0.8"/>
<line x1="211.8" y1="332.5" x2="363.7" y2="332.5" stroke="#ebebeb" stroke-width="0.8"/>
<line x1="211.8" y1="369" x2="363.7" y2="369" stroke="#ebebeb" stroke-width="0.8"/>
<line x1="211.8" y1="405.3" x2="363.7" y2="405.3" stroke="#ebebeb" stroke-width="0.8"/>
<linearGradient id="gu2h0" gradientUnits="userSpaceOnUse" x1="211.8" y1="441" x2="363.7" y2="301.6"><stop offset="0" stop-color="#d4d4d4" stop-opacity="0.600"/><stop offset="0.3" stop-color="#c0c0c0" stop-opacity="0.750"/><stop offset="0.5" stop-color="#888888" stop-opacity="0.850"/><stop offset="0.75" stop-color="#777777" stop-opacity="0.850"/><stop offset="1" stop-color="#777777" stop-opacity="0.850"/></linearGradient>
<polygon points="188.8,452.2 390.7,267.1 387.3,263.4 185.4,448.5" fill="url(#gu2h0)"/>
<linearGradient id="gu2h1" gradientUnits="userSpaceOnUse" x1="211.8" y1="441" x2="363.7" y2="301.6"><stop offset="0" stop-color="#d4d4d4" stop-opacity="0.497"/><stop offset="0.3" stop-color="#c0c0c0" stop-opacity="0.571"/><stop offset="0.5" stop-color="#888888" stop-opacity="0.554"/><stop offset="0.75" stop-color="#777777" stop-opacity="0.554"/><stop offset="1" stop-color="#777777" stop-opacity="0.554"/></linearGradient>
<polygon points="185.4,448.5 387.3,263.4 386.0,261.9 184.1,447.1" fill="url(#gu2h1)"/>
<linearGradient id="gu2h2" gradientUnits="userSpaceOnUse" x1="211.8" y1="441" x2="363.7" y2="301.6"><stop offset="0" stop-color="#d4d4d4" stop-opacity="0.439"/><stop offset="0.3" stop-color="#c0c0c0" stop-opacity="0.476"/><stop offset="0.5" stop-color="#888888" stop-opacity="0.416"/><stop offset="0.75" stop-color="#777777" stop-opacity="0.416"/><stop offset="1" stop-color="#777777" stop-opacity="0.416"/></linearGradient>
<polygon points="184.1,447.1 386.0,261.9 384.6,260.4 182.7,445.6" fill="url(#gu2h2)"/>
<linearGradient id="gu2h3" gradientUnits="userSpaceOnUse" x1="211.8" y1="441" x2="363.7" y2="301.6"><stop offset="0" stop-color="#d4d4d4" stop-opacity="0.387"/><stop offset="0.3" stop-color="#c0c0c0" stop-opacity="0.397"/><stop offset="0.5" stop-color="#888888" stop-opacity="0.313"/><stop offset="0.75" stop-color="#777777" stop-opacity="0.313"/><stop offset="1" stop-color="#777777" stop-opacity="0.313"/></linearGradient>
<polygon points="182.7,445.6 384.6,260.4 383.3,259.0 181.4,444.1" fill="url(#gu2h3)"/>
<linearGradient id="gu2h4" gradientUnits="userSpaceOnUse" x1="211.8" y1="441" x2="363.7" y2="301.6"><stop offset="0" stop-color="#d4d4d4" stop-opacity="0.342"/><stop offset="0.3" stop-color="#c0c0c0" stop-opacity="0.331"/><stop offset="0.5" stop-color="#888888" stop-opacity="0.235"/><stop offset="0.75" stop-color="#777777" stop-opacity="0.235"/><stop offset="1" stop-color="#777777" stop-opacity="0.235"/></linearGradient>
<polygon points="181.4,444.1 383.3,259.0 381.9,257.5 180.0,442.6" fill="url(#gu2h4)"/>
<linearGradient id="gu2h5" gradientUnits="userSpaceOnUse" x1="211.8" y1="441" x2="363.7" y2="301.6"><stop offset="0" stop-color="#d4d4d4" stop-opacity="0.302"/><stop offset="0.3" stop-color="#c0c0c0" stop-opacity="0.276"/><stop offset="0.5" stop-color="#888888" stop-opacity="0.177"/><stop offset="0.75" stop-color="#777777" stop-opacity="0.177"/><stop offset="1" stop-color="#777777" stop-opacity="0.177"/></linearGradient>
<polygon points="180.0,442.6 381.9,257.5 380.6,256.0 178.7,441.2" fill="url(#gu2h5)"/>
<linearGradient id="gu2h6" gradientUnits="userSpaceOnUse" x1="211.8" y1="441" x2="363.7" y2="301.6"><stop offset="0" stop-color="#d4d4d4" stop-opacity="0.266"/><stop offset="0.3" stop-color="#c0c0c0" stop-opacity="0.230"/><stop offset="0.5" stop-color="#888888" stop-opacity="0.133"/><stop offset="0.75" stop-color="#777777" stop-opacity="0.133"/><stop offset="1" stop-color="#777777" stop-opacity="0.133"/></linearGradient>
<polygon points="178.7,441.2 380.6,256.0 379.2,254.5 177.3,439.7" fill="url(#gu2h6)"/>
<linearGradient id="gu2h7" gradientUnits="userSpaceOnUse" x1="211.8" y1="441" x2="363.7" y2="301.6"><stop offset="0" stop-color="#d4d4d4" stop-opacity="0.228"/><stop offset="0.3" stop-color="#c0c0c0" stop-opacity="0.183"/><stop offset="0.5" stop-color="#888888" stop-opacity="0.093"/><stop offset="0.75" stop-color="#777777" stop-opacity="0.093"/><stop offset="1" stop-color="#777777" stop-opacity="0.093"/></linearGradient>
<polygon points="177.3,439.7 379.2,254.5 377.2,252.3 175.3,437.5" fill="url(#gu2h7)"/>
<linearGradient id="gu2h8" gradientUnits="userSpaceOnUse" x1="211.8" y1="441" x2="363.7" y2="301.6"><stop offset="0" stop-color="#d4d4d4" stop-opacity="0.189"/><stop offset="0.3" stop-color="#c0c0c0" stop-opacity="0.140"/><stop offset="0.5" stop-color="#888888" stop-opacity="0.060"/><stop offset="0.75" stop-color="#777777" stop-opacity="0.060"/><stop offset="1" stop-color="#777777" stop-opacity="0.060"/></linearGradient>
<polygon points="175.3,437.5 377.2,252.3 375.2,250.1 173.3,435.3" fill="url(#gu2h8)"/>
<linearGradient id="gu2h9" gradientUnits="userSpaceOnUse" x1="211.8" y1="441" x2="363.7" y2="301.6"><stop offset="0" stop-color="#d4d4d4" stop-opacity="0.152"/><stop offset="0.3" stop-color="#c0c0c0" stop-opacity="0.102"/><stop offset="0.5" stop-color="#888888" stop-opacity="0.037"/><stop offset="0.75" stop-color="#777777" stop-opacity="0.037"/><stop offset="1" stop-color="#777777" stop-opacity="0.037"/></linearGradient>
<polygon points="173.3,435.3 375.2,250.1 372.5,247.2 170.6,432.3" fill="url(#gu2h9)"/>
<linearGradient id="gu2h10" gradientUnits="userSpaceOnUse" x1="211.8" y1="441" x2="363.7" y2="301.6"><stop offset="0" stop-color="#d4d4d4" stop-opacity="0.118"/><stop offset="0.3" stop-color="#c0c0c0" stop-opacity="0.071"/><stop offset="0.5" stop-color="#888888" stop-opacity="0.021"/><stop offset="0.75" stop-color="#777777" stop-opacity="0.021"/><stop offset="1" stop-color="#777777" stop-opacity="0.021"/></linearGradient>
<polygon points="170.6,432.3 372.5,247.2 369.8,244.2 167.9,429.4" fill="url(#gu2h10)"/>
<linearGradient id="gu2h11" gradientUnits="userSpaceOnUse" x1="211.8" y1="441" x2="363.7" y2="301.6"><stop offset="0" stop-color="#d4d4d4" stop-opacity="0.089"/><stop offset="0.3" stop-color="#c0c0c0" stop-opacity="0.047"/><stop offset="0.5" stop-color="#888888" stop-opacity="0.011"/><stop offset="0.75" stop-color="#777777" stop-opacity="0.011"/><stop offset="1" stop-color="#777777" stop-opacity="0.011"/></linearGradient>
<polygon points="167.9,429.4 369.8,244.2 366.4,240.5 164.5,425.7" fill="url(#gu2h11)"/>
<linearGradient id="gu2h12" gradientUnits="userSpaceOnUse" x1="211.8" y1="441" x2="363.7" y2="301.6"><stop offset="0" stop-color="#d4d4d4" stop-opacity="0.061"/><stop offset="0.3" stop-color="#c0c0c0" stop-opacity="0.027"/><stop offset="0.5" stop-color="#888888" stop-opacity="0.005"/><stop offset="0.75" stop-color="#777777" stop-opacity="0.005"/><stop offset="1" stop-color="#777777" stop-opacity="0.005"/></linearGradient>
<polygon points="164.5,425.7 366.4,240.5 361.7,235.4 159.8,420.5" fill="url(#gu2h12)"/>
<path fill="rgb(0,0,0)" d="M343.4 302.7h1.9v1.9h-1.9zM315.4 304.7h1.9v1.9h-1.9zM336.4 309.4h1.9v1.9h-1.9zM341.2 309.6h1.9v1.9h-1.9zM334.5 311.1h1.9v1.9h-1.9zM340.4 310.6h1.9v1.9h-1.9zM293.2 328.4h1.9v1.9h-1.9zM315.4 330.2h1.9v1.9h-1.9zM300.8 344.4h1.9v1.9h-1.9z"/>
<path fill="rgb(12,12,12)" d="M336.7 300.7h1.9v1.9h-1.9zM345.0 300.8h1.9v1.9h-1.9zM348.8 300.0h1.9v1.9h-1.9zM326.7 302.9h1.9v1.9h-1.9zM348.9 303.1h1.9v1.9h-1.9zM338.7 309.5h1.9v1.9h-1.9zM326.1 311.6h1.9v1.9h-1.9zM328.2 310.8h1.9v1.9h-1.9zM335.3 312.8h1.9v1.9h-1.9zM328.5 315.6h1.9v1.9h-1.9zM330.0 315.6h1.9v1.9h-1.9zM335.1 315.0h1.9v1.9h-1.9zM329.9 317.4h1.9v1.9h-1.9zM332.1 316.9h1.9v1.9h-1.9zM326.5 321.9h1.9v1.9h-1.9zM322.4 325.6h1.9v1.9h-1.9zM318.3 327.9h1.9v1.9h-1.9zM296.6 329.8h1.9v1.9h-1.9zM307.9 329.8h1.9v1.9h-1.9zM300.6 340.6h1.9v1.9h-1.9zM292.4 344.8h1.9v1.9h-1.9z"/>
<path fill="rgb(24,24,24)" d="M341.4 305.3h1.9v1.9h-1.9zM343.1 304.3h1.9v1.9h-1.9zM347.1 304.4h1.9v1.9h-1.9zM335.0 306.7h1.9v1.9h-1.9zM340.8 306.7h1.9v1.9h-1.9zM343.2 306.9h1.9v1.9h-1.9zM303.5 310.5h1.9v1.9h-1.9zM339.4 310.5h1.9v1.9h-1.9zM316.3 313.1h1.9v1.9h-1.9zM307.4 314.9h1.9v1.9h-1.9zM318.4 314.9h1.9v1.9h-1.9zM333.1 315.3h1.9v1.9h-1.9zM322.1 317.0h1.9v1.9h-1.9zM318.4 319.5h1.9v1.9h-1.9zM324.3 320.0h1.9v1.9h-1.9zM315.6 321.8h1.9v1.9h-1.9zM328.0 321.7h1.9v1.9h-1.9zM316.0 323.6h1.9v1.9h-1.9zM317.5 324.0h1.9v1.9h-1.9zM319.8 323.5h1.9v1.9h-1.9zM320.1 325.4h1.9v1.9h-1.9zM305.7 331.8h1.9v1.9h-1.9zM313.4 332.5h1.9v1.9h-1.9zM315.4 334.1h1.9v1.9h-1.9zM300.7 338.4h1.9v1.9h-1.9zM303.3 342.0h1.9v1.9h-1.9zM294.9 347.3h1.9v1.9h-1.9zM297.4 346.8h1.9v1.9h-1.9zM299.0 346.7h1.9v1.9h-1.9zM288.6 349.4h1.9v1.9h-1.9zM292.7 348.9h1.9v1.9h-1.9zM288.3 353.3h1.9v1.9h-1.9z"/>
<path fill="rgb(36,36,36)" d="M334.9 300.9h1.9v1.9h-1.9zM346.8 300.4h1.9v1.9h-1.9zM330.7 302.9h1.9v1.9h-1.9zM334.4 302.9h1.9v1.9h-1.9zM336.4 303.2h1.9v1.9h-1.9zM339.1 302.5h1.9v1.9h-1.9zM345.1 303.1h1.9v1.9h-1.9zM326.0 304.4h1.9v1.9h-1.9zM336.9 305.3h1.9v1.9h-1.9zM339.0 305.2h1.9v1.9h-1.9zM345.2 305.4h1.9v1.9h-1.9zM322.7 306.6h1.9v1.9h-1.9zM328.5 306.7h1.9v1.9h-1.9zM330.6 306.6h1.9v1.9h-1.9zM336.4 311.0h1.9v1.9h-1.9zM321.9 313.6h1.9v1.9h-1.9zM332.5 313.4h1.9v1.9h-1.9zM336.8 313.7h1.9v1.9h-1.9zM313.7 315.6h1.9v1.9h-1.9zM320.0 314.8h1.9v1.9h-1.9zM319.7 318.0h1.9v1.9h-1.9zM325.9 317.8h1.9v1.9h-1.9zM312.1 319.6h1.9v1.9h-1.9zM313.7 319.0h1.9v1.9h-1.9zM328.1 319.9h1.9v1.9h-1.9zM318.4 321.5h1.9v1.9h-1.9zM319.8 322.0h1.9v1.9h-1.9zM322.4 322.1h1.9v1.9h-1.9zM323.9 321.3h1.9v1.9h-1.9zM286.7 323.8h1.9v1.9h-1.9zM305.3 323.3h1.9v1.9h-1.9zM322.1 324.2h1.9v1.9h-1.9zM323.6 323.7h1.9v1.9h-1.9zM316.0 325.3h1.9v1.9h-1.9zM317.9 325.3h1.9v1.9h-1.9zM315.4 331.6h1.9v1.9h-1.9zM284.9 338.1h1.9v1.9h-1.9zM291.0 341.0h1.9v1.9h-1.9zM307.8 341.0h1.9v1.9h-1.9zM296.5 342.6h1.9v1.9h-1.9zM301.4 342.8h1.9v1.9h-1.9zM286.7 344.3h1.9v1.9h-1.9zM294.3 345.0h1.9v1.9h-1.9zM299.2 344.7h1.9v1.9h-1.9zM298.9 348.9h1.9v1.9h-1.9zM288.0 350.5h1.9v1.9h-1.9zM292.5 351.2h1.9v1.9h-1.9zM284.2 353.0h1.9v1.9h-1.9zM294.7 352.9h1.9v1.9h-1.9zM288.0 355.3h1.9v1.9h-1.9zM290.7 355.0h1.9v1.9h-1.9zM288.3 357.0h1.9v1.9h-1.9zM274.4 363.1h1.9v1.9h-1.9z"/>
<path fill="rgb(48,48,48)" d="M340.4 300.7h1.9v1.9h-1.9zM347.1 303.0h1.9v1.9h-1.9zM334.8 304.6h1.9v1.9h-1.9zM320.0 307.1h1.9v1.9h-1.9zM333.0 309.1h1.9v1.9h-1.9zM292.8 311.7h1.9v1.9h-1.9zM330.0 313.1h1.9v1.9h-1.9zM321.7 315.4h1.9v1.9h-1.9zM326.8 315.6h1.9v1.9h-1.9zM315.8 317.0h1.9v1.9h-1.9zM323.6 317.0h1.9v1.9h-1.9zM328.9 317.1h1.9v1.9h-1.9zM294.8 321.9h1.9v1.9h-1.9zM293.2 325.6h1.9v1.9h-1.9zM299.0 326.3h1.9v1.9h-1.9zM311.6 325.2h1.9v1.9h-1.9zM324.1 325.8h1.9v1.9h-1.9zM311.8 328.0h1.9v1.9h-1.9zM315.8 328.0h1.9v1.9h-1.9zM320.2 327.9h1.9v1.9h-1.9zM318.1 330.0h1.9v1.9h-1.9zM282.0 331.6h1.9v1.9h-1.9zM292.9 331.9h1.9v1.9h-1.9zM312.0 332.6h1.9v1.9h-1.9zM301.3 333.8h1.9v1.9h-1.9zM291.1 336.6h1.9v1.9h-1.9zM297.3 336.5h1.9v1.9h-1.9zM299.2 336.8h1.9v1.9h-1.9zM301.2 336.0h1.9v1.9h-1.9zM294.3 337.8h1.9v1.9h-1.9zM302.7 338.4h1.9v1.9h-1.9zM288.9 340.8h1.9v1.9h-1.9zM299.0 340.9h1.9v1.9h-1.9zM284.3 342.6h1.9v1.9h-1.9zM288.2 343.0h1.9v1.9h-1.9zM298.8 342.8h1.9v1.9h-1.9zM288.8 346.8h1.9v1.9h-1.9zM293.2 346.5h1.9v1.9h-1.9zM300.7 346.3h1.9v1.9h-1.9zM286.2 349.5h1.9v1.9h-1.9zM292.8 352.5h1.9v1.9h-1.9zM286.2 354.9h1.9v1.9h-1.9zM284.4 357.0h1.9v1.9h-1.9zM275.9 359.0h1.9v1.9h-1.9z"/>
<path fill="rgb(60,60,60)" d="M292.2 304.6h1.9v1.9h-1.9zM322.0 304.6h1.9v1.9h-1.9zM313.5 306.8h1.9v1.9h-1.9zM294.7 311.6h1.9v1.9h-1.9zM324.5 311.0h1.9v1.9h-1.9zM330.8 311.4h1.9v1.9h-1.9zM300.9 315.8h1.9v1.9h-1.9zM297.4 324.1h1.9v1.9h-1.9zM311.7 324.2h1.9v1.9h-1.9zM279.6 325.8h1.9v1.9h-1.9zM303.3 326.2h1.9v1.9h-1.9zM313.3 325.8h1.9v1.9h-1.9zM322.5 327.4h1.9v1.9h-1.9zM292.7 330.3h1.9v1.9h-1.9zM280.1 334.6h1.9v1.9h-1.9zM303.6 334.2h1.9v1.9h-1.9zM286.4 336.6h1.9v1.9h-1.9zM297.2 338.4h1.9v1.9h-1.9zM302.7 340.9h1.9v1.9h-1.9zM305.1 340.0h1.9v1.9h-1.9zM304.8 342.7h1.9v1.9h-1.9zM284.3 345.0h1.9v1.9h-1.9zM303.1 344.4h1.9v1.9h-1.9zM282.8 347.2h1.9v1.9h-1.9zM296.8 348.4h1.9v1.9h-1.9zM282.6 351.4h1.9v1.9h-1.9zM296.8 350.6h1.9v1.9h-1.9zM290.9 352.8h1.9v1.9h-1.9zM284.0 355.1h1.9v1.9h-1.9zM292.3 355.3h1.9v1.9h-1.9zM286.8 357.5h1.9v1.9h-1.9zM273.2 362.0h1.9v1.9h-1.9zM280.1 361.7h1.9v1.9h-1.9zM281.8 361.5h1.9v1.9h-1.9zM284.3 361.2h1.9v1.9h-1.9zM281.8 364.0h1.9v1.9h-1.9z"/>
<path fill="rgb(72,72,72)" d="M338.4 307.4h1.9v1.9h-1.9zM282.4 317.0h1.9v1.9h-1.9zM325.9 319.0h1.9v1.9h-1.9zM307.6 321.4h1.9v1.9h-1.9zM301.5 326.2h1.9v1.9h-1.9zM274.3 330.1h1.9v1.9h-1.9zM279.7 332.3h1.9v1.9h-1.9zM288.5 331.6h1.9v1.9h-1.9zM307.2 332.0h1.9v1.9h-1.9zM305.6 336.1h1.9v1.9h-1.9zM294.4 340.1h1.9v1.9h-1.9zM293.0 342.2h1.9v1.9h-1.9zM290.4 349.2h1.9v1.9h-1.9zM283.8 350.7h1.9v1.9h-1.9zM295.0 350.5h1.9v1.9h-1.9zM280.1 357.1h1.9v1.9h-1.9zM286.6 359.0h1.9v1.9h-1.9zM280.4 365.5h1.9v1.9h-1.9z"/>
<path fill="rgb(84,84,84)" d="M277.9 329.9h1.9v1.9h-1.9zM276.0 350.8h1.9v1.9h-1.9zM280.6 355.7h1.9v1.9h-1.9zM282.4 359.8h1.9v1.9h-1.9zM279.7 364.1h1.9v1.9h-1.9zM276.4 365.4h1.9v1.9h-1.9zM278.3 365.7h1.9v1.9h-1.9zM269.4 369.9h1.9v1.9h-1.9zM271.7 370.2h1.9v1.9h-1.9zM274.1 371.7h1.9v1.9h-1.9zM269.5 373.8h1.9v1.9h-1.9z"/>
<path fill="rgb(96,96,96)" d="M279.6 341.0h1.9v1.9h-1.9zM272.1 357.7h1.9v1.9h-1.9zM284.5 360.0h1.9v1.9h-1.9zM278.5 363.6h1.9v1.9h-1.9zM267.4 366.2h1.9v1.9h-1.9zM272.3 366.1h1.9v1.9h-1.9zM270.0 367.2h1.9v1.9h-1.9zM272.2 367.6h1.9v1.9h-1.9zM274.3 367.3h1.9v1.9h-1.9zM275.9 367.4h1.9v1.9h-1.9zM265.0 372.3h1.9v1.9h-1.9zM267.7 372.2h1.9v1.9h-1.9z"/>
<path fill="rgb(108,108,108)" d="M281.9 319.2h1.9v1.9h-1.9zM276.4 345.3h1.9v1.9h-1.9zM277.4 357.3h1.9v1.9h-1.9zM271.4 359.9h1.9v1.9h-1.9zM267.7 361.3h1.9v1.9h-1.9zM272.2 364.1h1.9v1.9h-1.9zM265.1 365.2h1.9v1.9h-1.9zM274.3 365.6h1.9v1.9h-1.9zM267.1 376.7h1.9v1.9h-1.9zM265.5 378.1h1.9v1.9h-1.9z"/>
<path fill="rgb(120,120,120)" d="M265.0 348.3h1.9v1.9h-1.9zM269.0 349.4h1.9v1.9h-1.9zM273.6 355.5h1.9v1.9h-1.9zM265.2 363.3h1.9v1.9h-1.9zM274.1 369.8h1.9v1.9h-1.9zM271.9 373.9h1.9v1.9h-1.9zM261.6 378.2h1.9v1.9h-1.9zM247.0 392.6h1.9v1.9h-1.9z"/>
<path fill="rgb(132,132,132)" d="M259.2 344.2h1.9v1.9h-1.9zM267.3 348.9h1.9v1.9h-1.9zM265.8 368.0h1.9v1.9h-1.9zM255.0 376.0h1.9v1.9h-1.9zM265.5 376.1h1.9v1.9h-1.9zM248.9 378.7h1.9v1.9h-1.9zM259.7 378.0h1.9v1.9h-1.9zM267.4 377.9h1.9v1.9h-1.9zM249.2 380.5h1.9v1.9h-1.9zM263.0 380.2h1.9v1.9h-1.9zM245.9 382.0h1.9v1.9h-1.9zM240.4 384.8h1.9v1.9h-1.9zM242.0 397.7h1.9v1.9h-1.9zM221.0 411.3h1.9v1.9h-1.9z"/>
<path fill="rgb(144,144,144)" d="M263.6 370.3h1.9v1.9h-1.9zM252.2 371.5h1.9v1.9h-1.9zM260.6 376.6h1.9v1.9h-1.9zM269.3 376.0h1.9v1.9h-1.9zM256.6 377.9h1.9v1.9h-1.9zM259.5 384.3h1.9v1.9h-1.9zM246.4 386.4h1.9v1.9h-1.9zM252.6 386.7h1.9v1.9h-1.9zM240.0 389.4h1.9v1.9h-1.9zM242.2 399.2h1.9v1.9h-1.9zM229.9 401.3h1.9v1.9h-1.9zM235.6 403.0h1.9v1.9h-1.9z"/>
<path fill="rgb(156,156,156)" d="M259.1 326.3h1.9v1.9h-1.9zM246.5 363.4h1.9v1.9h-1.9zM259.1 365.9h1.9v1.9h-1.9zM225.9 368.3h1.9v1.9h-1.9zM268.0 369.6h1.9v1.9h-1.9zM261.5 371.9h1.9v1.9h-1.9zM257.0 374.5h1.9v1.9h-1.9zM244.1 383.0h1.9v1.9h-1.9zM257.5 382.1h1.9v1.9h-1.9zM260.7 382.6h1.9v1.9h-1.9zM233.5 388.2h1.9v1.9h-1.9zM250.1 389.3h1.9v1.9h-1.9zM255.0 388.4h1.9v1.9h-1.9zM244.8 391.1h1.9v1.9h-1.9zM246.4 391.2h1.9v1.9h-1.9zM252.9 391.1h1.9v1.9h-1.9zM235.5 401.1h1.9v1.9h-1.9zM223.1 412.4h1.9v1.9h-1.9z"/>
<path fill="rgb(168,168,168)" d="M261.6 361.0h1.9v1.9h-1.9zM250.7 363.4h1.9v1.9h-1.9zM226.1 378.1h1.9v1.9h-1.9zM248.8 383.0h1.9v1.9h-1.9zM257.5 384.1h1.9v1.9h-1.9zM251.2 387.3h1.9v1.9h-1.9zM257.1 386.1h1.9v1.9h-1.9zM227.6 388.9h1.9v1.9h-1.9zM238.6 389.0h1.9v1.9h-1.9zM248.9 390.9h1.9v1.9h-1.9zM216.8 393.5h1.9v1.9h-1.9zM239.7 393.5h1.9v1.9h-1.9zM249.2 393.2h1.9v1.9h-1.9zM221.4 397.2h1.9v1.9h-1.9zM240.6 397.3h1.9v1.9h-1.9zM240.7 399.0h1.9v1.9h-1.9zM242.5 400.9h1.9v1.9h-1.9zM232.0 403.0h1.9v1.9h-1.9zM238.7 403.1h1.9v1.9h-1.9zM227.2 407.8h1.9v1.9h-1.9zM227.8 409.8h1.9v1.9h-1.9zM218.9 413.6h1.9v1.9h-1.9zM218.6 417.8h1.9v1.9h-1.9zM217.1 424.0h1.9v1.9h-1.9z"/>
<path fill="rgb(180,180,180)" d="M223.7 356.9h1.9v1.9h-1.9zM257.4 380.2h1.9v1.9h-1.9zM236.3 384.8h1.9v1.9h-1.9zM235.6 388.2h1.9v1.9h-1.9zM253.2 389.2h1.9v1.9h-1.9zM248.6 395.3h1.9v1.9h-1.9zM231.9 397.4h1.9v1.9h-1.9zM218.8 399.9h1.9v1.9h-1.9zM236.1 399.8h1.9v1.9h-1.9zM238.4 401.6h1.9v1.9h-1.9zM212.3 403.3h1.9v1.9h-1.9zM229.6 405.4h1.9v1.9h-1.9zM235.9 405.6h1.9v1.9h-1.9zM231.9 410.4h1.9v1.9h-1.9zM213.4 416.5h1.9v1.9h-1.9zM218.9 415.9h1.9v1.9h-1.9zM221.0 416.5h1.9v1.9h-1.9zM216.5 418.7h1.9v1.9h-1.9zM221.8 418.1h1.9v1.9h-1.9zM219.6 420.5h1.9v1.9h-1.9zM211.0 426.8h1.9v1.9h-1.9z"/>
<path fill="rgb(192,192,192)" d="M242.5 375.8h1.9v1.9h-1.9zM215.4 384.6h1.9v1.9h-1.9zM231.7 392.7h1.9v1.9h-1.9zM235.7 392.7h1.9v1.9h-1.9zM214.7 401.2h1.9v1.9h-1.9zM225.5 401.5h1.9v1.9h-1.9zM228.1 401.0h1.9v1.9h-1.9zM232.3 408.1h1.9v1.9h-1.9zM225.3 415.9h1.9v1.9h-1.9zM210.4 419.8h1.9v1.9h-1.9z"/>
<path fill="rgb(204,204,204)" d="M211.2 399.4h1.9v1.9h-1.9zM217.5 403.4h1.9v1.9h-1.9zM212.5 410.1h1.9v1.9h-1.9zM230.1 411.6h1.9v1.9h-1.9zM212.8 424.1h1.9v1.9h-1.9zM213.1 426.3h1.9v1.9h-1.9z"/>
<path fill="rgb(216,216,216)" d="M216.6 380.9h1.9v1.9h-1.9z"/>
<linearGradient id="gl2h0" gradientUnits="userSpaceOnUse" x1="211.8" y1="441" x2="363.7" y2="301.6"><stop offset="0" stop-color="#e0e0e0" stop-opacity="0.450"/><stop offset="0.3" stop-color="#cccccc" stop-opacity="0.800"/><stop offset="0.6" stop-color="#bebebe" stop-opacity="0.950"/><stop offset="1" stop-color="#b8b8b8" stop-opacity="0.950"/></linearGradient>
<polygon points="184.8,471.3 386.7,286.2 390.1,289.8 188.2,475.0" fill="url(#gl2h0)"/>
<linearGradient id="gl2h1" gradientUnits="userSpaceOnUse" x1="211.8" y1="441" x2="363.7" y2="301.6"><stop offset="0" stop-color="#e0e0e0" stop-opacity="0.322"/><stop offset="0.3" stop-color="#cccccc" stop-opacity="0.573"/><stop offset="0.6" stop-color="#bebebe" stop-opacity="0.704"/><stop offset="1" stop-color="#b8b8b8" stop-opacity="0.704"/></linearGradient>
<polygon points="188.2,475.0 390.1,289.8 391.4,291.3 189.5,476.5" fill="url(#gl2h1)"/>
<linearGradient id="gl2h2" gradientUnits="userSpaceOnUse" x1="211.8" y1="441" x2="363.7" y2="301.6"><stop offset="0" stop-color="#e0e0e0" stop-opacity="0.258"/><stop offset="0.3" stop-color="#cccccc" stop-opacity="0.459"/><stop offset="0.6" stop-color="#bebebe" stop-opacity="0.576"/><stop offset="1" stop-color="#b8b8b8" stop-opacity="0.576"/></linearGradient>
<polygon points="189.5,476.5 391.4,291.3 392.8,292.8 190.9,477.9" fill="url(#gl2h2)"/>
<linearGradient id="gl2h3" gradientUnits="userSpaceOnUse" x1="211.8" y1="441" x2="363.7" y2="301.6"><stop offset="0" stop-color="#e0e0e0" stop-opacity="0.207"/><stop offset="0.3" stop-color="#cccccc" stop-opacity="0.368"/><stop offset="0.6" stop-color="#bebebe" stop-opacity="0.472"/><stop offset="1" stop-color="#b8b8b8" stop-opacity="0.472"/></linearGradient>
<polygon points="190.9,477.9 392.8,292.8 394.1,294.3 192.2,479.4" fill="url(#gl2h3)"/>
<linearGradient id="gl2h4" gradientUnits="userSpaceOnUse" x1="211.8" y1="441" x2="363.7" y2="301.6"><stop offset="0" stop-color="#e0e0e0" stop-opacity="0.166"/><stop offset="0.3" stop-color="#cccccc" stop-opacity="0.294"/><stop offset="0.6" stop-color="#bebebe" stop-opacity="0.386"/><stop offset="1" stop-color="#b8b8b8" stop-opacity="0.386"/></linearGradient>
<polygon points="192.2,479.4 394.1,294.3 395.5,295.7 193.6,480.9" fill="url(#gl2h4)"/>
<linearGradient id="gl2h5" gradientUnits="userSpaceOnUse" x1="211.8" y1="441" x2="363.7" y2="301.6"><stop offset="0" stop-color="#e0e0e0" stop-opacity="0.133"/><stop offset="0.3" stop-color="#cccccc" stop-opacity="0.236"/><stop offset="0.6" stop-color="#bebebe" stop-opacity="0.316"/><stop offset="1" stop-color="#b8b8b8" stop-opacity="0.316"/></linearGradient>
<polygon points="193.6,480.9 395.5,295.7 396.8,297.2 194.9,482.3" fill="url(#gl2h5)"/>
<linearGradient id="gl2h6" gradientUnits="userSpaceOnUse" x1="211.8" y1="441" x2="363.7" y2="301.6"><stop offset="0" stop-color="#e0e0e0" stop-opacity="0.106"/><stop offset="0.3" stop-color="#cccccc" stop-opacity="0.189"/><stop offset="0.6" stop-color="#bebebe" stop-opacity="0.259"/><stop offset="1" stop-color="#b8b8b8" stop-opacity="0.259"/></linearGradient>
<polygon points="194.9,482.3 396.8,297.2 398.2,298.7 196.3,483.8" fill="url(#gl2h6)"/>
<linearGradient id="gl2h7" gradientUnits="userSpaceOnUse" x1="211.8" y1="441" x2="363.7" y2="301.6"><stop offset="0" stop-color="#e0e0e0" stop-opacity="0.080"/><stop offset="0.3" stop-color="#cccccc" stop-opacity="0.143"/><stop offset="0.6" stop-color="#bebebe" stop-opacity="0.202"/><stop offset="1" stop-color="#b8b8b8" stop-opacity="0.202"/></linearGradient>
<polygon points="196.3,483.8 398.2,298.7 400.2,300.9 198.3,486.0" fill="url(#gl2h7)"/>
<linearGradient id="gl2h8" gradientUnits="userSpaceOnUse" x1="211.8" y1="441" x2="363.7" y2="301.6"><stop offset="0" stop-color="#e0e0e0" stop-opacity="0.058"/><stop offset="0.3" stop-color="#cccccc" stop-opacity="0.102"/><stop offset="0.6" stop-color="#bebebe" stop-opacity="0.149"/><stop offset="1" stop-color="#b8b8b8" stop-opacity="0.149"/></linearGradient>
<polygon points="198.3,486.0 400.2,300.9 402.2,303.1 200.3,488.2" fill="url(#gl2h8)"/>
<linearGradient id="gl2h9" gradientUnits="userSpaceOnUse" x1="211.8" y1="441" x2="363.7" y2="301.6"><stop offset="0" stop-color="#e0e0e0" stop-opacity="0.039"/><stop offset="0.3" stop-color="#cccccc" stop-opacity="0.069"/><stop offset="0.6" stop-color="#bebebe" stop-opacity="0.105"/><stop offset="1" stop-color="#b8b8b8" stop-opacity="0.105"/></linearGradient>
<polygon points="200.3,488.2 402.2,303.1 404.9,306.1 203.0,491.2" fill="url(#gl2h9)"/>
<linearGradient id="gl2h10" gradientUnits="userSpaceOnUse" x1="211.8" y1="441" x2="363.7" y2="301.6"><stop offset="0" stop-color="#e0e0e0" stop-opacity="0.025"/><stop offset="0.3" stop-color="#cccccc" stop-opacity="0.045"/><stop offset="0.6" stop-color="#bebebe" stop-opacity="0.071"/><stop offset="1" stop-color="#b8b8b8" stop-opacity="0.071"/></linearGradient>
<polygon points="203.0,491.2 404.9,306.1 407.6,309.0 205.7,494.1" fill="url(#gl2h10)"/>
<linearGradient id="gl2h11" gradientUnits="userSpaceOnUse" x1="211.8" y1="441" x2="363.7" y2="301.6"><stop offset="0" stop-color="#e0e0e0" stop-opacity="0.015"/><stop offset="0.3" stop-color="#cccccc" stop-opacity="0.027"/><stop offset="0.6" stop-color="#bebebe" stop-opacity="0.045"/><stop offset="1" stop-color="#b8b8b8" stop-opacity="0.045"/></linearGradient>
<polygon points="205.7,494.1 407.6,309.0 411.0,312.7 209.1,497.8" fill="url(#gl2h11)"/>
<linearGradient id="gl2h12" gradientUnits="userSpaceOnUse" x1="211.8" y1="441" x2="363.7" y2="301.6"><stop offset="0" stop-color="#e0e0e0" stop-opacity="0.008"/><stop offset="0.3" stop-color="#cccccc" stop-opacity="0.014"/><stop offset="0.6" stop-color="#bebebe" stop-opacity="0.025"/><stop offset="1" stop-color="#b8b8b8" stop-opacity="0.025"/></linearGradient>
<polygon points="209.1,497.8 411.0,312.7 415.7,317.8 213.8,503.0" fill="url(#gl2h12)"/>
<path fill="rgb(144,144,144)" d="M359.8 328.2h1.9v1.9h-1.9zM349.7 334.0h1.9v1.9h-1.9zM338.4 341.1h1.9v1.9h-1.9zM303.6 365.2h1.9v1.9h-1.9zM284.1 382.6h1.9v1.9h-1.9zM277.9 403.9h1.9v1.9h-1.9z"/>
<path fill="rgb(156,156,156)" d="M359.8 319.2h1.9v1.9h-1.9zM351.9 321.6h1.9v1.9h-1.9zM360.1 324.0h1.9v1.9h-1.9zM357.3 326.1h1.9v1.9h-1.9zM347.5 332.0h1.9v1.9h-1.9zM332.6 339.0h1.9v1.9h-1.9zM332.4 345.2h1.9v1.9h-1.9zM330.3 347.0h1.9v1.9h-1.9zM344.6 346.9h1.9v1.9h-1.9zM321.9 357.2h1.9v1.9h-1.9zM355.6 361.8h1.9v1.9h-1.9zM303.4 368.4h1.9v1.9h-1.9zM293.1 374.2h1.9v1.9h-1.9zM314.1 374.0h1.9v1.9h-1.9zM292.2 378.5h1.9v1.9h-1.9zM295.0 382.5h1.9v1.9h-1.9zM326.9 384.1h1.9v1.9h-1.9zM275.7 392.9h1.9v1.9h-1.9zM292.5 395.1h1.9v1.9h-1.9zM267.4 399.0h1.9v1.9h-1.9zM307.6 415.6h1.9v1.9h-1.9zM301.6 420.0h1.9v1.9h-1.9z"/>
<path fill="rgb(168,168,168)" d="M359.8 313.3h1.9v1.9h-1.9zM355.7 317.6h1.9v1.9h-1.9zM353.1 319.5h1.9v1.9h-1.9zM363.5 322.2h1.9v1.9h-1.9zM351.0 325.9h1.9v1.9h-1.9zM345.1 328.3h1.9v1.9h-1.9zM347.4 327.5h1.9v1.9h-1.9zM349.7 328.1h1.9v1.9h-1.9zM342.9 329.6h1.9v1.9h-1.9zM339.0 334.5h1.9v1.9h-1.9zM351.2 340.0h1.9v1.9h-1.9zM328.6 343.0h1.9v1.9h-1.9zM342.9 342.8h1.9v1.9h-1.9zM326.1 347.0h1.9v1.9h-1.9zM320.4 351.4h1.9v1.9h-1.9zM326.0 351.1h1.9v1.9h-1.9zM316.3 353.7h1.9v1.9h-1.9zM328.2 352.7h1.9v1.9h-1.9zM313.7 355.2h1.9v1.9h-1.9zM317.4 355.3h1.9v1.9h-1.9zM324.4 359.2h1.9v1.9h-1.9zM326.3 358.8h1.9v1.9h-1.9zM315.8 361.9h1.9v1.9h-1.9zM335.1 366.2h1.9v1.9h-1.9zM324.2 380.1h1.9v1.9h-1.9zM302.9 382.8h1.9v1.9h-1.9zM314.3 382.5h1.9v1.9h-1.9zM282.6 385.2h1.9v1.9h-1.9zM283.8 386.4h1.9v1.9h-1.9zM343.4 388.4h1.9v1.9h-1.9zM288.1 401.3h1.9v1.9h-1.9zM271.4 403.9h1.9v1.9h-1.9z"/>
<path fill="rgb(180,180,180)" d="M364.1 312.7h1.9v1.9h-1.9zM358.3 315.3h1.9v1.9h-1.9zM355.4 319.4h1.9v1.9h-1.9zM353.4 321.2h1.9v1.9h-1.9zM364.0 328.4h1.9v1.9h-1.9zM344.7 329.9h1.9v1.9h-1.9zM340.6 332.4h1.9v1.9h-1.9zM334.8 336.1h1.9v1.9h-1.9zM336.3 339.0h1.9v1.9h-1.9zM330.7 342.4h1.9v1.9h-1.9zM336.7 342.2h1.9v1.9h-1.9zM336.5 344.5h1.9v1.9h-1.9zM322.6 348.6h1.9v1.9h-1.9zM323.7 348.4h1.9v1.9h-1.9zM332.0 348.8h1.9v1.9h-1.9zM323.7 352.6h1.9v1.9h-1.9zM331.0 357.7h1.9v1.9h-1.9zM309.8 360.0h1.9v1.9h-1.9zM311.4 359.8h1.9v1.9h-1.9zM313.8 359.8h1.9v1.9h-1.9zM301.4 367.9h1.9v1.9h-1.9zM303.0 371.6h1.9v1.9h-1.9zM298.5 374.5h1.9v1.9h-1.9zM295.3 375.7h1.9v1.9h-1.9zM298.7 375.7h1.9v1.9h-1.9zM288.4 380.3h1.9v1.9h-1.9zM318.5 382.9h1.9v1.9h-1.9zM300.8 384.7h1.9v1.9h-1.9zM279.7 386.3h1.9v1.9h-1.9zM283.8 388.5h1.9v1.9h-1.9zM288.4 390.8h1.9v1.9h-1.9zM272.0 395.0h1.9v1.9h-1.9zM274.3 394.8h1.9v1.9h-1.9zM280.5 395.4h1.9v1.9h-1.9zM266.0 403.9h1.9v1.9h-1.9zM255.3 415.9h1.9v1.9h-1.9zM273.8 424.2h1.9v1.9h-1.9zM244.5 433.4h1.9v1.9h-1.9zM246.6 432.5h1.9v1.9h-1.9zM233.4 434.4h1.9v1.9h-1.9z"/>
<path fill="rgb(192,192,192)" d="M364.1 311.6h1.9v1.9h-1.9zM353.6 323.6h1.9v1.9h-1.9zM359.4 326.4h1.9v1.9h-1.9zM355.7 329.7h1.9v1.9h-1.9zM330.7 340.9h1.9v1.9h-1.9zM336.4 340.7h1.9v1.9h-1.9zM334.6 344.3h1.9v1.9h-1.9zM326.4 348.9h1.9v1.9h-1.9zM363.7 349.5h1.9v1.9h-1.9zM317.6 353.2h1.9v1.9h-1.9zM315.8 357.2h1.9v1.9h-1.9zM320.3 359.2h1.9v1.9h-1.9zM311.4 361.3h1.9v1.9h-1.9zM305.0 363.1h1.9v1.9h-1.9zM309.8 363.4h1.9v1.9h-1.9zM311.8 363.7h1.9v1.9h-1.9zM322.7 363.7h1.9v1.9h-1.9zM355.4 366.1h1.9v1.9h-1.9zM311.4 367.8h1.9v1.9h-1.9zM326.0 371.8h1.9v1.9h-1.9zM296.3 374.5h1.9v1.9h-1.9zM332.7 374.6h1.9v1.9h-1.9zM296.7 378.4h1.9v1.9h-1.9zM292.4 383.0h1.9v1.9h-1.9zM296.7 384.7h1.9v1.9h-1.9zM309.2 384.4h1.9v1.9h-1.9zM282.6 387.2h1.9v1.9h-1.9zM289.1 386.7h1.9v1.9h-1.9zM277.5 388.5h1.9v1.9h-1.9zM326.5 388.6h1.9v1.9h-1.9zM280.0 392.4h1.9v1.9h-1.9zM284.1 393.5h1.9v1.9h-1.9zM284.0 395.5h1.9v1.9h-1.9zM280.3 406.0h1.9v1.9h-1.9zM265.7 407.9h1.9v1.9h-1.9zM272.2 408.2h1.9v1.9h-1.9zM256.9 410.3h1.9v1.9h-1.9zM261.0 409.4h1.9v1.9h-1.9zM252.3 411.6h1.9v1.9h-1.9zM267.3 411.9h1.9v1.9h-1.9zM256.9 414.1h1.9v1.9h-1.9zM248.7 424.3h1.9v1.9h-1.9zM250.8 424.5h1.9v1.9h-1.9zM226.0 439.5h1.9v1.9h-1.9zM232.3 438.9h1.9v1.9h-1.9zM252.5 440.8h1.9v1.9h-1.9z"/>
<path fill="rgb(204,204,204)" d="M349.7 326.1h1.9v1.9h-1.9zM336.5 336.1h1.9v1.9h-1.9zM335.2 338.2h1.9v1.9h-1.9zM339.2 338.4h1.9v1.9h-1.9zM347.4 339.0h1.9v1.9h-1.9zM332.5 342.8h1.9v1.9h-1.9zM320.1 353.5h1.9v1.9h-1.9zM338.8 353.3h1.9v1.9h-1.9zM320.5 364.0h1.9v1.9h-1.9zM315.9 370.5h1.9v1.9h-1.9zM286.4 382.6h1.9v1.9h-1.9zM288.7 384.3h1.9v1.9h-1.9zM272.0 399.6h1.9v1.9h-1.9zM272.2 401.4h1.9v1.9h-1.9zM296.4 403.0h1.9v1.9h-1.9zM258.8 408.2h1.9v1.9h-1.9zM265.0 410.3h1.9v1.9h-1.9zM288.5 409.4h1.9v1.9h-1.9zM316.1 409.6h1.9v1.9h-1.9zM256.9 412.3h1.9v1.9h-1.9zM250.9 413.6h1.9v1.9h-1.9zM256.8 416.6h1.9v1.9h-1.9zM263.4 430.2h1.9v1.9h-1.9zM227.2 435.0h1.9v1.9h-1.9z"/>
<path fill="rgb(216,216,216)" d="M318.0 362.1h1.9v1.9h-1.9zM313.7 363.5h1.9v1.9h-1.9zM295.2 373.6h1.9v1.9h-1.9zM286.6 386.6h1.9v1.9h-1.9zM275.8 391.1h1.9v1.9h-1.9zM278.0 392.6h1.9v1.9h-1.9zM276.0 395.6h1.9v1.9h-1.9zM275.6 401.6h1.9v1.9h-1.9zM262.8 408.1h1.9v1.9h-1.9zM259.0 411.6h1.9v1.9h-1.9zM238.6 424.1h1.9v1.9h-1.9zM240.8 424.0h1.9v1.9h-1.9zM234.0 429.0h1.9v1.9h-1.9zM221.3 441.8h1.9v1.9h-1.9z"/>
<path fill="rgb(228,228,228)" d="M282.5 388.2h1.9v1.9h-1.9zM251.0 416.2h1.9v1.9h-1.9zM246.2 422.7h1.9v1.9h-1.9zM244.9 428.8h1.9v1.9h-1.9zM229.4 433.3h1.9v1.9h-1.9zM224.9 437.6h1.9v1.9h-1.9z"/>
<linearGradient id="bg2" gradientUnits="userSpaceOnUse" x1="211.8" y1="441" x2="363.7" y2="301.6"><stop offset="0" stop-color="#e4e4e4"/><stop offset="0.28" stop-color="#d8d8d8"/><stop offset="0.38" stop-color="#aaaaaa"/><stop offset="0.5" stop-color="#909090"/><stop offset="0.65" stop-color="#848484"/><stop offset="0.85" stop-color="#888888"/><stop offset="1" stop-color="#8e8e8e"/></linearGradient>
<polygon points="191.8,445.4 383.7,269.4 383.7,292.9 191.8,468.9" fill="url(#bg2)"/>
<linearGradient id="bp2" gradientUnits="userSpaceOnUse" x1="287.8" y1="357.4" x2="299.5" y2="370.2"><stop offset="0" stop-color="#000" stop-opacity="0.25"/><stop offset="0.5" stop-color="#000" stop-opacity="0.05"/><stop offset="0.75" stop-color="#fff" stop-opacity="0.1"/><stop offset="1" stop-color="#fff" stop-opacity="0.15"/></linearGradient>
<polygon points="191.8,445.4 383.7,269.4 383.7,292.9 191.8,468.9" fill="url(#bp2)"/>
<linearGradient id="cl2" gradientUnits="userSpaceOnUse" x1="211.8" y1="441" x2="363.7" y2="301.6"><stop offset="0" stop-color="#888" stop-opacity="0.55"/><stop offset="0.35" stop-color="#888" stop-opacity="0.4"/><stop offset="0.55" stop-color="#888" stop-opacity="0"/></linearGradient>
<line x1="191.8" y1="458.2" x2="383.7" y2="282.2" stroke="url(#cl2)" stroke-width="1"/>
<line x1="191.8" y1="445.4" x2="383.7" y2="269.4" stroke="#000" stroke-width="0.95"/>
<line x1="191.8" y1="468.9" x2="383.7" y2="292.9" stroke="#000" stroke-width="0.95"/>
</g>
<rect x="211.0" y="300.8" width="153.49999999999997" height="140.99999999999997" fill="none" stroke="#000" stroke-width="1.8"/>
<clipPath id="clip3"><rect x="369.9" y="301.6" width="145.30000000000007" height="139.39999999999998"/></clipPath>
<rect x="369.9" y="301.6" width="145.30000000000007" height="139.39999999999998" fill="#fff"/>
<g clip-path="url(#clip3)">
<line x1="405.4" y1="301.6" x2="405.4" y2="441" stroke="#ebebeb" stroke-width="0.8"/>
<line x1="444" y1="301.6" x2="444" y2="441" stroke="#ebebeb" stroke-width="0.8"/>
<line x1="484.5" y1="301.6" x2="484.5" y2="441" stroke="#ebebeb" stroke-width="0.8"/>
<line x1="369.9" y1="331.5" x2="515.2" y2="331.5" stroke="#ebebeb" stroke-width="0.8"/>
<line x1="369.9" y1="368" x2="515.2" y2="368" stroke="#ebebeb" stroke-width="0.8"/>
<line x1="369.9" y1="404.2" x2="515.2" y2="404.2" stroke="#ebebeb" stroke-width="0.8"/>
<linearGradient id="gu3h0" gradientUnits="userSpaceOnUse" x1="369.9" y1="441" x2="515.2" y2="301.6"><stop offset="0" stop-color="#dadada" stop-opacity="0.500"/><stop offset="0.3" stop-color="#c4c4c4" stop-opacity="0.700"/><stop offset="0.5" stop-color="#999999" stop-opacity="0.850"/><stop offset="0.75" stop-color="#777777" stop-opacity="0.900"/><stop offset="1" stop-color="#777777" stop-opacity="0.900"/></linearGradient>
<polygon points="346.9,452.8 542.2,270.8 538.8,267.2 343.5,449.2" fill="url(#gu3h0)"/>
<linearGradient id="gu3h1" gradientUnits="userSpaceOnUse" x1="369.9" y1="441" x2="515.2" y2="301.6"><stop offset="0" stop-color="#dadada" stop-opacity="0.389"/><stop offset="0.3" stop-color="#c4c4c4" stop-opacity="0.533"/><stop offset="0.5" stop-color="#999999" stop-opacity="0.554"/><stop offset="0.75" stop-color="#777777" stop-opacity="0.586"/><stop offset="1" stop-color="#777777" stop-opacity="0.586"/></linearGradient>
<polygon points="343.5,449.2 538.8,267.2 537.5,265.7 342.2,447.7" fill="url(#gu3h1)"/>
<linearGradient id="gu3h2" gradientUnits="userSpaceOnUse" x1="369.9" y1="441" x2="515.2" y2="301.6"><stop offset="0" stop-color="#dadada" stop-opacity="0.330"/><stop offset="0.3" stop-color="#c4c4c4" stop-opacity="0.444"/><stop offset="0.5" stop-color="#999999" stop-opacity="0.416"/><stop offset="0.75" stop-color="#777777" stop-opacity="0.441"/><stop offset="1" stop-color="#777777" stop-opacity="0.441"/></linearGradient>
<polygon points="342.2,447.7 537.5,265.7 536.1,264.2 340.8,446.3" fill="url(#gu3h2)"/>
<linearGradient id="gu3h3" gradientUnits="userSpaceOnUse" x1="369.9" y1="441" x2="515.2" y2="301.6"><stop offset="0" stop-color="#dadada" stop-opacity="0.279"/><stop offset="0.3" stop-color="#c4c4c4" stop-opacity="0.370"/><stop offset="0.5" stop-color="#999999" stop-opacity="0.313"/><stop offset="0.75" stop-color="#777777" stop-opacity="0.331"/><stop offset="1" stop-color="#777777" stop-opacity="0.331"/></linearGradient>
<polygon points="340.8,446.3 536.1,264.2 534.7,262.8 339.4,444.8" fill="url(#gu3h3)"/>
<linearGradient id="gu3h4" gradientUnits="userSpaceOnUse" x1="369.9" y1="441" x2="515.2" y2="301.6"><stop offset="0" stop-color="#dadada" stop-opacity="0.236"/><stop offset="0.3" stop-color="#c4c4c4" stop-opacity="0.309"/><stop offset="0.5" stop-color="#999999" stop-opacity="0.235"/><stop offset="0.75" stop-color="#777777" stop-opacity="0.249"/><stop offset="1" stop-color="#777777" stop-opacity="0.249"/></linearGradient>
<polygon points="339.4,444.8 534.7,262.8 533.4,261.3 338.1,443.3" fill="url(#gu3h4)"/>
<linearGradient id="gu3h5" gradientUnits="userSpaceOnUse" x1="369.9" y1="441" x2="515.2" y2="301.6"><stop offset="0" stop-color="#dadada" stop-opacity="0.200"/><stop offset="0.3" stop-color="#c4c4c4" stop-opacity="0.258"/><stop offset="0.5" stop-color="#999999" stop-opacity="0.177"/><stop offset="0.75" stop-color="#777777" stop-opacity="0.187"/><stop offset="1" stop-color="#777777" stop-opacity="0.187"/></linearGradient>
<polygon points="338.1,443.3 533.4,261.3 532.0,259.9 336.7,441.9" fill="url(#gu3h5)"/>
<linearGradient id="gu3h6" gradientUnits="userSpaceOnUse" x1="369.9" y1="441" x2="515.2" y2="301.6"><stop offset="0" stop-color="#dadada" stop-opacity="0.169"/><stop offset="0.3" stop-color="#c4c4c4" stop-opacity="0.215"/><stop offset="0.5" stop-color="#999999" stop-opacity="0.133"/><stop offset="0.75" stop-color="#777777" stop-opacity="0.141"/><stop offset="1" stop-color="#777777" stop-opacity="0.141"/></linearGradient>
<polygon points="336.7,441.9 532.0,259.9 530.7,258.4 335.4,440.4" fill="url(#gu3h6)"/>
<linearGradient id="gu3h7" gradientUnits="userSpaceOnUse" x1="369.9" y1="441" x2="515.2" y2="301.6"><stop offset="0" stop-color="#dadada" stop-opacity="0.137"/><stop offset="0.3" stop-color="#c4c4c4" stop-opacity="0.171"/><stop offset="0.5" stop-color="#999999" stop-opacity="0.093"/><stop offset="0.75" stop-color="#777777" stop-opacity="0.098"/><stop offset="1" stop-color="#777777" stop-opacity="0.098"/></linearGradient>
<polygon points="335.4,440.4 530.7,258.4 528.6,256.2 333.3,438.2" fill="url(#gu3h7)"/>
<linearGradient id="gu3h8" gradientUnits="userSpaceOnUse" x1="369.9" y1="441" x2="515.2" y2="301.6"><stop offset="0" stop-color="#dadada" stop-opacity="0.107"/><stop offset="0.3" stop-color="#c4c4c4" stop-opacity="0.130"/><stop offset="0.5" stop-color="#999999" stop-opacity="0.060"/><stop offset="0.75" stop-color="#777777" stop-opacity="0.064"/><stop offset="1" stop-color="#777777" stop-opacity="0.064"/></linearGradient>
<polygon points="333.3,438.2 528.6,256.2 526.6,254.0 331.3,436.0" fill="url(#gu3h8)"/>
<linearGradient id="gu3h9" gradientUnits="userSpaceOnUse" x1="369.9" y1="441" x2="515.2" y2="301.6"><stop offset="0" stop-color="#dadada" stop-opacity="0.080"/><stop offset="0.3" stop-color="#c4c4c4" stop-opacity="0.095"/><stop offset="0.5" stop-color="#999999" stop-opacity="0.037"/><stop offset="0.75" stop-color="#777777" stop-opacity="0.039"/><stop offset="1" stop-color="#777777" stop-opacity="0.039"/></linearGradient>
<polygon points="331.3,436.0 526.6,254.0 523.8,251.1 328.5,433.1" fill="url(#gu3h9)"/>
<linearGradient id="gu3h10" gradientUnits="userSpaceOnUse" x1="369.9" y1="441" x2="515.2" y2="301.6"><stop offset="0" stop-color="#dadada" stop-opacity="0.057"/><stop offset="0.3" stop-color="#c4c4c4" stop-opacity="0.066"/><stop offset="0.5" stop-color="#999999" stop-opacity="0.021"/><stop offset="0.75" stop-color="#777777" stop-opacity="0.022"/><stop offset="1" stop-color="#777777" stop-opacity="0.022"/></linearGradient>
<polygon points="328.5,433.1 523.8,251.1 521.1,248.2 325.8,430.2" fill="url(#gu3h10)"/>
<linearGradient id="gu3h11" gradientUnits="userSpaceOnUse" x1="369.9" y1="441" x2="515.2" y2="301.6"><stop offset="0" stop-color="#dadada" stop-opacity="0.039"/><stop offset="0.3" stop-color="#c4c4c4" stop-opacity="0.044"/><stop offset="0.5" stop-color="#999999" stop-opacity="0.011"/><stop offset="0.75" stop-color="#777777" stop-opacity="0.012"/><stop offset="1" stop-color="#777777" stop-opacity="0.012"/></linearGradient>
<polygon points="325.8,430.2 521.1,248.2 517.7,244.5 322.4,426.5" fill="url(#gu3h11)"/>
<linearGradient id="gu3h12" gradientUnits="userSpaceOnUse" x1="369.9" y1="441" x2="515.2" y2="301.6"><stop offset="0" stop-color="#dadada" stop-opacity="0.024"/><stop offset="0.3" stop-color="#c4c4c4" stop-opacity="0.025"/><stop offset="0.5" stop-color="#999999" stop-opacity="0.005"/><stop offset="0.75" stop-color="#777777" stop-opacity="0.005"/><stop offset="1" stop-color="#777777" stop-opacity="0.005"/></linearGradient>
<polygon points="322.4,426.5 517.7,244.5 512.9,239.4 317.6,421.4" fill="url(#gu3h12)"/>
<path fill="rgb(0,0,0)" d="M493.1 300.0h1.9v1.9h-1.9zM492.2 302.4h1.9v1.9h-1.9zM502.8 302.5h1.9v1.9h-1.9zM492.7 305.2h1.9v1.9h-1.9zM490.3 310.8h1.9v1.9h-1.9zM494.4 310.9h1.9v1.9h-1.9z"/>
<path fill="rgb(12,12,12)" d="M494.5 308.4h1.9v1.9h-1.9zM488.6 311.7h1.9v1.9h-1.9zM486.3 312.9h1.9v1.9h-1.9zM488.9 313.0h1.9v1.9h-1.9zM490.4 313.6h1.9v1.9h-1.9zM493.3 313.6h1.9v1.9h-1.9zM465.8 315.7h1.9v1.9h-1.9zM488.0 314.9h1.9v1.9h-1.9zM469.4 322.0h1.9v1.9h-1.9zM474.0 321.7h1.9v1.9h-1.9zM480.4 321.7h1.9v1.9h-1.9zM475.8 323.1h1.9v1.9h-1.9zM474.5 325.5h1.9v1.9h-1.9zM473.4 328.2h1.9v1.9h-1.9zM473.9 332.1h1.9v1.9h-1.9zM465.9 333.8h1.9v1.9h-1.9zM467.3 333.7h1.9v1.9h-1.9zM456.9 342.3h1.9v1.9h-1.9z"/>
<path fill="rgb(24,24,24)" d="M495.5 300.6h1.9v1.9h-1.9zM499.2 300.5h1.9v1.9h-1.9zM486.3 303.0h1.9v1.9h-1.9zM497.5 303.2h1.9v1.9h-1.9zM500.6 302.9h1.9v1.9h-1.9zM486.0 305.3h1.9v1.9h-1.9zM490.4 304.5h1.9v1.9h-1.9zM499.0 305.1h1.9v1.9h-1.9zM494.9 306.9h1.9v1.9h-1.9zM497.0 307.3h1.9v1.9h-1.9zM500.8 307.0h1.9v1.9h-1.9zM477.8 313.7h1.9v1.9h-1.9zM484.8 313.5h1.9v1.9h-1.9zM474.1 315.4h1.9v1.9h-1.9zM474.1 317.7h1.9v1.9h-1.9zM486.9 316.9h1.9v1.9h-1.9zM488.6 317.8h1.9v1.9h-1.9zM482.2 319.2h1.9v1.9h-1.9zM482.6 321.8h1.9v1.9h-1.9zM463.2 323.5h1.9v1.9h-1.9zM474.4 324.1h1.9v1.9h-1.9zM479.6 323.7h1.9v1.9h-1.9zM471.4 330.1h1.9v1.9h-1.9zM473.4 330.3h1.9v1.9h-1.9zM476.0 329.6h1.9v1.9h-1.9zM452.6 344.5h1.9v1.9h-1.9z"/>
<path fill="rgb(36,36,36)" d="M501.1 300.6h1.9v1.9h-1.9zM505.7 300.5h1.9v1.9h-1.9zM488.3 302.4h1.9v1.9h-1.9zM494.7 302.6h1.9v1.9h-1.9zM494.5 304.8h1.9v1.9h-1.9zM496.8 304.9h1.9v1.9h-1.9zM469.6 307.3h1.9v1.9h-1.9zM492.8 307.1h1.9v1.9h-1.9zM499.4 307.2h1.9v1.9h-1.9zM473.8 308.9h1.9v1.9h-1.9zM476.5 309.4h1.9v1.9h-1.9zM484.0 309.1h1.9v1.9h-1.9zM493.2 309.1h1.9v1.9h-1.9zM496.7 308.8h1.9v1.9h-1.9zM499.5 308.6h1.9v1.9h-1.9zM480.0 311.3h1.9v1.9h-1.9zM492.4 311.7h1.9v1.9h-1.9zM463.8 313.2h1.9v1.9h-1.9zM465.6 312.9h1.9v1.9h-1.9zM481.9 315.5h1.9v1.9h-1.9zM484.1 315.5h1.9v1.9h-1.9zM490.4 315.0h1.9v1.9h-1.9zM490.1 317.2h1.9v1.9h-1.9zM459.1 319.9h1.9v1.9h-1.9zM477.6 322.0h1.9v1.9h-1.9zM484.0 322.1h1.9v1.9h-1.9zM459.2 324.0h1.9v1.9h-1.9zM470.3 323.7h1.9v1.9h-1.9zM471.3 323.3h1.9v1.9h-1.9zM478.5 323.7h1.9v1.9h-1.9zM478.4 325.4h1.9v1.9h-1.9zM469.2 328.0h1.9v1.9h-1.9zM459.8 332.2h1.9v1.9h-1.9zM470.1 332.7h1.9v1.9h-1.9zM471.8 332.3h1.9v1.9h-1.9zM469.5 334.8h1.9v1.9h-1.9zM471.6 334.1h1.9v1.9h-1.9zM450.3 336.2h1.9v1.9h-1.9zM467.9 336.7h1.9v1.9h-1.9zM459.0 338.6h1.9v1.9h-1.9zM460.9 340.7h1.9v1.9h-1.9zM461.2 342.2h1.9v1.9h-1.9zM455.4 346.9h1.9v1.9h-1.9z"/>
<path fill="rgb(48,48,48)" d="M474.4 301.0h1.9v1.9h-1.9zM503.6 301.2h1.9v1.9h-1.9zM498.8 302.5h1.9v1.9h-1.9zM479.7 304.6h1.9v1.9h-1.9zM468.0 306.5h1.9v1.9h-1.9zM478.7 306.4h1.9v1.9h-1.9zM486.7 307.0h1.9v1.9h-1.9zM490.8 306.5h1.9v1.9h-1.9zM490.7 308.7h1.9v1.9h-1.9zM469.8 315.4h1.9v1.9h-1.9zM456.7 317.6h1.9v1.9h-1.9zM480.5 317.2h1.9v1.9h-1.9zM484.8 317.8h1.9v1.9h-1.9zM473.3 319.8h1.9v1.9h-1.9zM484.6 319.0h1.9v1.9h-1.9zM465.1 321.7h1.9v1.9h-1.9zM472.4 322.0h1.9v1.9h-1.9zM482.2 324.0h1.9v1.9h-1.9zM465.5 326.3h1.9v1.9h-1.9zM459.1 327.6h1.9v1.9h-1.9zM465.7 328.2h1.9v1.9h-1.9zM472.1 327.7h1.9v1.9h-1.9zM467.6 329.7h1.9v1.9h-1.9zM459.7 334.2h1.9v1.9h-1.9zM461.0 336.8h1.9v1.9h-1.9zM465.4 336.2h1.9v1.9h-1.9zM453.1 339.0h1.9v1.9h-1.9zM454.9 338.7h1.9v1.9h-1.9zM457.5 338.5h1.9v1.9h-1.9zM461.8 338.2h1.9v1.9h-1.9zM465.1 338.3h1.9v1.9h-1.9zM455.4 340.5h1.9v1.9h-1.9zM456.7 344.8h1.9v1.9h-1.9zM452.4 347.3h1.9v1.9h-1.9zM446.9 351.3h1.9v1.9h-1.9zM453.0 350.6h1.9v1.9h-1.9zM442.7 357.8h1.9v1.9h-1.9z"/>
<path fill="rgb(60,60,60)" d="M475.9 302.9h1.9v1.9h-1.9zM455.5 313.4h1.9v1.9h-1.9zM461.6 313.6h1.9v1.9h-1.9zM475.7 317.1h1.9v1.9h-1.9zM475.5 326.4h1.9v1.9h-1.9zM480.5 326.0h1.9v1.9h-1.9zM468.1 328.2h1.9v1.9h-1.9zM478.5 327.9h1.9v1.9h-1.9zM463.8 329.5h1.9v1.9h-1.9zM465.8 330.2h1.9v1.9h-1.9zM463.5 331.6h1.9v1.9h-1.9zM467.8 331.7h1.9v1.9h-1.9zM461.2 333.7h1.9v1.9h-1.9zM456.7 336.0h1.9v1.9h-1.9zM452.5 342.8h1.9v1.9h-1.9zM459.4 344.1h1.9v1.9h-1.9zM444.9 349.3h1.9v1.9h-1.9zM446.1 348.8h1.9v1.9h-1.9zM456.5 348.4h1.9v1.9h-1.9zM451.1 350.7h1.9v1.9h-1.9zM451.2 353.0h1.9v1.9h-1.9zM442.3 361.1h1.9v1.9h-1.9z"/>
<path fill="rgb(72,72,72)" d="M501.5 305.3h1.9v1.9h-1.9zM486.4 319.5h1.9v1.9h-1.9zM465.1 323.5h1.9v1.9h-1.9zM455.0 327.3h1.9v1.9h-1.9zM475.9 328.1h1.9v1.9h-1.9zM444.3 338.9h1.9v1.9h-1.9zM444.1 340.6h1.9v1.9h-1.9zM459.4 340.8h1.9v1.9h-1.9zM463.1 340.2h1.9v1.9h-1.9zM465.1 340.0h1.9v1.9h-1.9zM459.4 342.0h1.9v1.9h-1.9zM444.8 345.3h1.9v1.9h-1.9zM448.7 348.4h1.9v1.9h-1.9zM454.6 348.8h1.9v1.9h-1.9zM446.2 353.2h1.9v1.9h-1.9zM448.2 353.1h1.9v1.9h-1.9zM438.1 354.8h1.9v1.9h-1.9zM446.0 355.3h1.9v1.9h-1.9zM447.1 357.3h1.9v1.9h-1.9zM434.1 359.9h1.9v1.9h-1.9z"/>
<path fill="rgb(84,84,84)" d="M438.5 329.7h1.9v1.9h-1.9zM465.5 332.3h1.9v1.9h-1.9zM438.3 336.3h1.9v1.9h-1.9zM463.1 338.7h1.9v1.9h-1.9zM444.4 342.1h1.9v1.9h-1.9zM448.2 342.3h1.9v1.9h-1.9zM436.6 345.2h1.9v1.9h-1.9zM457.7 346.3h1.9v1.9h-1.9zM451.3 349.1h1.9v1.9h-1.9zM429.4 351.1h1.9v1.9h-1.9zM449.3 351.4h1.9v1.9h-1.9zM434.5 352.9h1.9v1.9h-1.9zM440.4 359.1h1.9v1.9h-1.9zM442.5 359.6h1.9v1.9h-1.9zM444.8 358.8h1.9v1.9h-1.9zM439.9 361.9h1.9v1.9h-1.9z"/>
<path fill="rgb(96,96,96)" d="M451.4 334.8h1.9v1.9h-1.9zM462.9 333.6h1.9v1.9h-1.9zM440.6 340.6h1.9v1.9h-1.9zM452.8 340.3h1.9v1.9h-1.9zM446.4 342.6h1.9v1.9h-1.9zM450.6 342.8h1.9v1.9h-1.9zM440.3 345.3h1.9v1.9h-1.9zM442.6 351.4h1.9v1.9h-1.9zM435.8 355.0h1.9v1.9h-1.9zM444.0 355.5h1.9v1.9h-1.9zM444.5 357.8h1.9v1.9h-1.9zM436.0 359.8h1.9v1.9h-1.9zM431.3 361.2h1.9v1.9h-1.9zM438.0 363.5h1.9v1.9h-1.9zM439.7 363.6h1.9v1.9h-1.9zM435.7 366.3h1.9v1.9h-1.9zM438.4 365.2h1.9v1.9h-1.9zM430.3 372.6h1.9v1.9h-1.9z"/>
<path fill="rgb(108,108,108)" d="M456.9 321.8h1.9v1.9h-1.9zM440.1 327.9h1.9v1.9h-1.9zM446.5 335.9h1.9v1.9h-1.9zM442.9 340.5h1.9v1.9h-1.9zM428.3 346.8h1.9v1.9h-1.9zM440.0 348.8h1.9v1.9h-1.9zM426.1 351.1h1.9v1.9h-1.9zM442.1 353.6h1.9v1.9h-1.9zM427.3 364.0h1.9v1.9h-1.9zM433.8 366.2h1.9v1.9h-1.9zM433.5 367.6h1.9v1.9h-1.9zM428.2 370.2h1.9v1.9h-1.9zM429.4 370.2h1.9v1.9h-1.9zM431.9 369.9h1.9v1.9h-1.9zM427.4 374.1h1.9v1.9h-1.9zM419.1 376.3h1.9v1.9h-1.9z"/>
<path fill="rgb(120,120,120)" d="M428.2 334.0h1.9v1.9h-1.9zM429.6 338.1h1.9v1.9h-1.9zM425.3 347.2h1.9v1.9h-1.9zM442.4 355.2h1.9v1.9h-1.9zM439.7 357.4h1.9v1.9h-1.9zM430.3 359.9h1.9v1.9h-1.9zM427.9 365.5h1.9v1.9h-1.9zM426.1 369.6h1.9v1.9h-1.9zM422.9 373.5h1.9v1.9h-1.9z"/>
<path fill="rgb(132,132,132)" d="M421.7 325.6h1.9v1.9h-1.9zM428.1 349.5h1.9v1.9h-1.9zM427.9 351.5h1.9v1.9h-1.9zM423.5 355.7h1.9v1.9h-1.9zM427.9 357.9h1.9v1.9h-1.9zM435.9 357.0h1.9v1.9h-1.9zM425.7 361.2h1.9v1.9h-1.9zM428.2 361.2h1.9v1.9h-1.9zM432.4 368.3h1.9v1.9h-1.9zM415.5 369.6h1.9v1.9h-1.9zM425.7 374.0h1.9v1.9h-1.9zM425.2 375.7h1.9v1.9h-1.9z"/>
<path fill="rgb(144,144,144)" d="M422.0 328.2h1.9v1.9h-1.9zM421.6 340.2h1.9v1.9h-1.9zM413.5 344.7h1.9v1.9h-1.9zM423.4 353.6h1.9v1.9h-1.9zM425.9 357.5h1.9v1.9h-1.9zM419.8 359.3h1.9v1.9h-1.9zM425.9 359.2h1.9v1.9h-1.9zM431.9 359.9h1.9v1.9h-1.9zM418.8 368.4h1.9v1.9h-1.9zM422.9 368.3h1.9v1.9h-1.9zM429.8 367.5h1.9v1.9h-1.9zM412.8 384.2h1.9v1.9h-1.9zM415.5 384.9h1.9v1.9h-1.9zM406.4 388.9h1.9v1.9h-1.9zM407.3 390.4h1.9v1.9h-1.9zM404.9 392.8h1.9v1.9h-1.9z"/>
<path fill="rgb(156,156,156)" d="M412.9 353.5h1.9v1.9h-1.9zM425.5 355.4h1.9v1.9h-1.9zM420.8 363.4h1.9v1.9h-1.9zM413.1 365.8h1.9v1.9h-1.9zM421.5 365.9h1.9v1.9h-1.9zM429.8 365.6h1.9v1.9h-1.9zM419.9 371.7h1.9v1.9h-1.9zM427.5 372.4h1.9v1.9h-1.9zM405.2 374.2h1.9v1.9h-1.9zM411.4 373.5h1.9v1.9h-1.9zM373.5 376.4h1.9v1.9h-1.9zM421.8 376.7h1.9v1.9h-1.9zM413.1 378.1h1.9v1.9h-1.9zM414.6 381.0h1.9v1.9h-1.9zM402.5 382.5h1.9v1.9h-1.9zM407.1 384.5h1.9v1.9h-1.9zM404.7 394.9h1.9v1.9h-1.9zM400.9 397.7h1.9v1.9h-1.9z"/>
<path fill="rgb(168,168,168)" d="M418.7 357.8h1.9v1.9h-1.9zM413.4 359.8h1.9v1.9h-1.9zM392.2 370.3h1.9v1.9h-1.9zM409.4 378.3h1.9v1.9h-1.9zM410.8 378.1h1.9v1.9h-1.9zM415.4 378.0h1.9v1.9h-1.9zM419.9 378.9h1.9v1.9h-1.9zM421.9 378.7h1.9v1.9h-1.9zM415.6 382.5h1.9v1.9h-1.9zM398.8 384.1h1.9v1.9h-1.9zM406.2 386.3h1.9v1.9h-1.9zM411.2 386.6h1.9v1.9h-1.9zM398.1 393.1h1.9v1.9h-1.9zM368.7 395.7h1.9v1.9h-1.9zM394.5 396.6h1.9v1.9h-1.9zM398.1 403.2h1.9v1.9h-1.9zM391.7 405.7h1.9v1.9h-1.9z"/>
<path fill="rgb(180,180,180)" d="M412.7 367.8h1.9v1.9h-1.9zM412.7 371.5h1.9v1.9h-1.9zM390.0 374.3h1.9v1.9h-1.9zM371.4 375.8h1.9v1.9h-1.9zM399.8 376.5h1.9v1.9h-1.9zM377.3 378.6h1.9v1.9h-1.9zM417.3 380.9h1.9v1.9h-1.9zM381.8 382.2h1.9v1.9h-1.9zM389.5 382.1h1.9v1.9h-1.9zM390.0 384.3h1.9v1.9h-1.9zM415.4 386.7h1.9v1.9h-1.9zM408.9 388.8h1.9v1.9h-1.9zM410.5 388.3h1.9v1.9h-1.9zM386.0 391.2h1.9v1.9h-1.9zM404.8 390.8h1.9v1.9h-1.9zM402.1 393.6h1.9v1.9h-1.9zM389.4 396.7h1.9v1.9h-1.9zM392.0 397.5h1.9v1.9h-1.9zM385.5 399.0h1.9v1.9h-1.9zM391.7 399.7h1.9v1.9h-1.9zM386.3 401.4h1.9v1.9h-1.9zM388.2 401.7h1.9v1.9h-1.9zM387.7 403.6h1.9v1.9h-1.9zM390.1 403.0h1.9v1.9h-1.9zM396.6 403.8h1.9v1.9h-1.9zM375.7 406.2h1.9v1.9h-1.9zM394.2 406.0h1.9v1.9h-1.9zM388.0 407.4h1.9v1.9h-1.9zM391.4 408.1h1.9v1.9h-1.9zM389.6 409.3h1.9v1.9h-1.9zM383.2 412.5h1.9v1.9h-1.9z"/>
<path fill="rgb(192,192,192)" d="M402.4 355.5h1.9v1.9h-1.9zM410.8 371.5h1.9v1.9h-1.9zM395.9 380.1h1.9v1.9h-1.9zM411.3 380.2h1.9v1.9h-1.9zM404.6 383.0h1.9v1.9h-1.9zM402.4 386.6h1.9v1.9h-1.9zM412.5 386.6h1.9v1.9h-1.9zM398.6 388.6h1.9v1.9h-1.9zM407.1 392.5h1.9v1.9h-1.9zM402.5 394.8h1.9v1.9h-1.9zM387.8 397.7h1.9v1.9h-1.9zM398.6 397.4h1.9v1.9h-1.9zM394.0 401.5h1.9v1.9h-1.9zM393.6 403.9h1.9v1.9h-1.9zM390.2 405.5h1.9v1.9h-1.9zM390.0 407.6h1.9v1.9h-1.9zM369.0 409.5h1.9v1.9h-1.9zM385.1 410.4h1.9v1.9h-1.9zM373.1 420.3h1.9v1.9h-1.9z"/>
<path fill="rgb(204,204,204)" d="M419.6 370.3h1.9v1.9h-1.9zM388.0 383.0h1.9v1.9h-1.9zM394.1 385.0h1.9v1.9h-1.9zM417.0 384.3h1.9v1.9h-1.9zM399.8 388.4h1.9v1.9h-1.9zM408.7 390.6h1.9v1.9h-1.9zM389.4 393.5h1.9v1.9h-1.9zM386.1 397.2h1.9v1.9h-1.9zM396.2 400.9h1.9v1.9h-1.9zM385.4 405.4h1.9v1.9h-1.9zM377.0 413.7h1.9v1.9h-1.9zM377.1 418.3h1.9v1.9h-1.9zM371.6 422.4h1.9v1.9h-1.9z"/>
<path fill="rgb(216,216,216)" d="M383.9 397.3h1.9v1.9h-1.9zM384.1 409.9h1.9v1.9h-1.9zM375.6 412.1h1.9v1.9h-1.9zM383.3 415.7h1.9v1.9h-1.9z"/>
<path fill="rgb(228,228,228)" d="M377.1 409.8h1.9v1.9h-1.9zM387.5 412.0h1.9v1.9h-1.9zM381.0 416.1h1.9v1.9h-1.9zM374.8 420.1h1.9v1.9h-1.9zM375.0 424.5h1.9v1.9h-1.9z"/>
<linearGradient id="gl3h0" gradientUnits="userSpaceOnUse" x1="369.9" y1="441" x2="515.2" y2="301.6"><stop offset="0" stop-color="#e0e0e0" stop-opacity="0.300"/><stop offset="0.3" stop-color="#cccccc" stop-opacity="0.750"/><stop offset="0.6" stop-color="#c0c0c0" stop-opacity="0.950"/><stop offset="1" stop-color="#bababa" stop-opacity="0.950"/></linearGradient>
<polygon points="342.9,469.9 538.2,287.8 541.6,291.5 346.3,473.5" fill="url(#gl3h0)"/>
<linearGradient id="gl3h1" gradientUnits="userSpaceOnUse" x1="369.9" y1="441" x2="515.2" y2="301.6"><stop offset="0" stop-color="#e0e0e0" stop-opacity="0.165"/><stop offset="0.3" stop-color="#cccccc" stop-opacity="0.515"/><stop offset="0.6" stop-color="#c0c0c0" stop-opacity="0.704"/><stop offset="1" stop-color="#bababa" stop-opacity="0.704"/></linearGradient>
<polygon points="346.3,473.5 541.6,291.5 542.9,293.0 347.6,475.0" fill="url(#gl3h1)"/>
<linearGradient id="gl3h2" gradientUnits="userSpaceOnUse" x1="369.9" y1="441" x2="515.2" y2="301.6"><stop offset="0" stop-color="#e0e0e0" stop-opacity="0.110"/><stop offset="0.3" stop-color="#cccccc" stop-opacity="0.401"/><stop offset="0.6" stop-color="#c0c0c0" stop-opacity="0.576"/><stop offset="1" stop-color="#bababa" stop-opacity="0.576"/></linearGradient>
<polygon points="347.6,475.0 542.9,293.0 544.3,294.4 349.0,476.4" fill="url(#gl3h2)"/>
<linearGradient id="gl3h3" gradientUnits="userSpaceOnUse" x1="369.9" y1="441" x2="515.2" y2="301.6"><stop offset="0" stop-color="#e0e0e0" stop-opacity="0.074"/><stop offset="0.3" stop-color="#cccccc" stop-opacity="0.313"/><stop offset="0.6" stop-color="#c0c0c0" stop-opacity="0.472"/><stop offset="1" stop-color="#bababa" stop-opacity="0.472"/></linearGradient>
<polygon points="349.0,476.4 544.3,294.4 545.7,295.9 350.4,477.9" fill="url(#gl3h3)"/>
<linearGradient id="gl3h4" gradientUnits="userSpaceOnUse" x1="369.9" y1="441" x2="515.2" y2="301.6"><stop offset="0" stop-color="#e0e0e0" stop-opacity="0.050"/><stop offset="0.3" stop-color="#cccccc" stop-opacity="0.243"/><stop offset="0.6" stop-color="#c0c0c0" stop-opacity="0.386"/><stop offset="1" stop-color="#bababa" stop-opacity="0.386"/></linearGradient>
<polygon points="350.4,477.9 545.7,295.9 547.0,297.3 351.7,479.4" fill="url(#gl3h4)"/>
<linearGradient id="gl3h5" gradientUnits="userSpaceOnUse" x1="369.9" y1="441" x2="515.2" y2="301.6"><stop offset="0" stop-color="#e0e0e0" stop-opacity="0.033"/><stop offset="0.3" stop-color="#cccccc" stop-opacity="0.190"/><stop offset="0.6" stop-color="#c0c0c0" stop-opacity="0.316"/><stop offset="1" stop-color="#bababa" stop-opacity="0.316"/></linearGradient>
<polygon points="351.7,479.4 547.0,297.3 548.4,298.8 353.1,480.8" fill="url(#gl3h5)"/>
<linearGradient id="gl3h6" gradientUnits="userSpaceOnUse" x1="369.9" y1="441" x2="515.2" y2="301.6"><stop offset="0" stop-color="#e0e0e0" stop-opacity="0.022"/><stop offset="0.3" stop-color="#cccccc" stop-opacity="0.148"/><stop offset="0.6" stop-color="#c0c0c0" stop-opacity="0.259"/><stop offset="1" stop-color="#bababa" stop-opacity="0.259"/></linearGradient>
<polygon points="353.1,480.8 548.4,298.8 549.7,300.3 354.4,482.3" fill="url(#gl3h6)"/>
<linearGradient id="gl3h7" gradientUnits="userSpaceOnUse" x1="369.9" y1="441" x2="515.2" y2="301.6"><stop offset="0" stop-color="#e0e0e0" stop-opacity="0.014"/><stop offset="0.3" stop-color="#cccccc" stop-opacity="0.108"/><stop offset="0.6" stop-color="#c0c0c0" stop-opacity="0.202"/><stop offset="1" stop-color="#bababa" stop-opacity="0.202"/></linearGradient>
<polygon points="354.4,482.3 549.7,300.3 551.8,302.5 356.5,484.5" fill="url(#gl3h7)"/>
<linearGradient id="gl3h8" gradientUnits="userSpaceOnUse" x1="369.9" y1="441" x2="515.2" y2="301.6"><stop offset="0" stop-color="#e0e0e0" stop-opacity="0.007"/><stop offset="0.3" stop-color="#cccccc" stop-opacity="0.074"/><stop offset="0.6" stop-color="#c0c0c0" stop-opacity="0.149"/><stop offset="1" stop-color="#bababa" stop-opacity="0.149"/></linearGradient>
<polygon points="356.5,484.5 551.8,302.5 553.8,304.7 358.5,486.7" fill="url(#gl3h8)"/>
<linearGradient id="gl3h9" gradientUnits="userSpaceOnUse" x1="369.9" y1="441" x2="515.2" y2="301.6"><stop offset="0" stop-color="#e0e0e0" stop-opacity="0.004"/><stop offset="0.3" stop-color="#cccccc" stop-opacity="0.048"/><stop offset="0.6" stop-color="#c0c0c0" stop-opacity="0.105"/><stop offset="1" stop-color="#bababa" stop-opacity="0.105"/></linearGradient>
<polygon points="358.5,486.7 553.8,304.7 556.6,307.6 361.3,489.6" fill="url(#gl3h9)"/>
<linearGradient id="gl3h10" gradientUnits="userSpaceOnUse" x1="369.9" y1="441" x2="515.2" y2="301.6"><stop offset="0" stop-color="#e0e0e0" stop-opacity="0.002"/><stop offset="0.3" stop-color="#cccccc" stop-opacity="0.029"/><stop offset="0.6" stop-color="#c0c0c0" stop-opacity="0.071"/><stop offset="1" stop-color="#bababa" stop-opacity="0.071"/></linearGradient>
<polygon points="361.3,489.6 556.6,307.6 559.3,310.5 364.0,492.5" fill="url(#gl3h10)"/>
<linearGradient id="gl3h11" gradientUnits="userSpaceOnUse" x1="369.9" y1="441" x2="515.2" y2="301.6"><stop offset="0" stop-color="#e0e0e0" stop-opacity="0.001"/><stop offset="0.3" stop-color="#cccccc" stop-opacity="0.017"/><stop offset="0.6" stop-color="#c0c0c0" stop-opacity="0.045"/><stop offset="1" stop-color="#bababa" stop-opacity="0.045"/></linearGradient>
<polygon points="364.0,492.5 559.3,310.5 562.7,314.2 367.4,496.2" fill="url(#gl3h11)"/>
<linearGradient id="gl3h12" gradientUnits="userSpaceOnUse" x1="369.9" y1="441" x2="515.2" y2="301.6"><stop offset="0" stop-color="#e0e0e0" stop-opacity="0.000"/><stop offset="0.3" stop-color="#cccccc" stop-opacity="0.008"/><stop offset="0.6" stop-color="#c0c0c0" stop-opacity="0.025"/><stop offset="1" stop-color="#bababa" stop-opacity="0.025"/></linearGradient>
<polygon points="367.4,496.2 562.7,314.2 567.5,319.3 372.2,501.3" fill="url(#gl3h12)"/>
<path fill="rgb(120,120,120)" d="M482.4 342.9h1.9v1.9h-1.9z"/>
<path fill="rgb(132,132,132)" d="M513.4 313.6h1.9v1.9h-1.9zM492.5 334.0h1.9v1.9h-1.9z"/>
<path fill="rgb(144,144,144)" d="M514.2 319.0h1.9v1.9h-1.9zM497.0 338.3h1.9v1.9h-1.9zM457.1 368.4h1.9v1.9h-1.9zM488.7 384.2h1.9v1.9h-1.9z"/>
<path fill="rgb(156,156,156)" d="M513.7 315.1h1.9v1.9h-1.9zM505.4 323.6h1.9v1.9h-1.9zM502.9 327.8h1.9v1.9h-1.9zM503.3 330.5h1.9v1.9h-1.9zM495.1 336.6h1.9v1.9h-1.9zM492.7 338.2h1.9v1.9h-1.9zM501.1 339.9h1.9v1.9h-1.9zM491.1 346.6h1.9v1.9h-1.9zM485.9 349.5h1.9v1.9h-1.9zM502.7 348.6h1.9v1.9h-1.9zM469.3 357.1h1.9v1.9h-1.9zM467.3 361.1h1.9v1.9h-1.9zM480.6 361.3h1.9v1.9h-1.9zM490.2 363.0h1.9v1.9h-1.9zM459.4 371.9h1.9v1.9h-1.9zM467.7 391.1h1.9v1.9h-1.9zM425.2 396.8h1.9v1.9h-1.9zM421.1 399.7h1.9v1.9h-1.9zM436.1 400.9h1.9v1.9h-1.9zM436.0 408.0h1.9v1.9h-1.9zM420.8 409.7h1.9v1.9h-1.9zM421.5 425.0h1.9v1.9h-1.9z"/>
<path fill="rgb(168,168,168)" d="M511.3 319.0h1.9v1.9h-1.9zM516.2 332.1h1.9v1.9h-1.9zM503.7 333.7h1.9v1.9h-1.9zM500.8 336.0h1.9v1.9h-1.9zM486.6 338.2h1.9v1.9h-1.9zM488.7 337.9h1.9v1.9h-1.9zM505.9 338.4h1.9v1.9h-1.9zM488.5 341.0h1.9v1.9h-1.9zM480.3 345.2h1.9v1.9h-1.9zM503.3 344.9h1.9v1.9h-1.9zM472.4 351.4h1.9v1.9h-1.9zM475.8 350.5h1.9v1.9h-1.9zM472.3 355.5h1.9v1.9h-1.9zM488.6 356.7h1.9v1.9h-1.9zM472.1 363.2h1.9v1.9h-1.9zM468.2 367.3h1.9v1.9h-1.9zM456.6 374.1h1.9v1.9h-1.9zM455.2 375.7h1.9v1.9h-1.9zM459.1 380.1h1.9v1.9h-1.9zM442.5 382.5h1.9v1.9h-1.9zM451.2 382.7h1.9v1.9h-1.9zM436.5 388.9h1.9v1.9h-1.9zM458.7 392.9h1.9v1.9h-1.9zM432.2 396.6h1.9v1.9h-1.9zM434.2 403.2h1.9v1.9h-1.9zM379.9 440.7h1.9v1.9h-1.9z"/>
<path fill="rgb(180,180,180)" d="M515.3 313.3h1.9v1.9h-1.9zM511.6 317.0h1.9v1.9h-1.9zM513.7 317.7h1.9v1.9h-1.9zM507.7 319.7h1.9v1.9h-1.9zM509.4 319.3h1.9v1.9h-1.9zM506.9 321.7h1.9v1.9h-1.9zM513.7 321.8h1.9v1.9h-1.9zM495.5 331.6h1.9v1.9h-1.9zM507.6 332.3h1.9v1.9h-1.9zM513.3 331.7h1.9v1.9h-1.9zM488.6 336.5h1.9v1.9h-1.9zM486.4 340.5h1.9v1.9h-1.9zM491.2 340.4h1.9v1.9h-1.9zM515.3 343.2h1.9v1.9h-1.9zM480.6 347.1h1.9v1.9h-1.9zM488.4 346.8h1.9v1.9h-1.9zM478.5 348.8h1.9v1.9h-1.9zM482.5 349.0h1.9v1.9h-1.9zM474.3 352.9h1.9v1.9h-1.9zM481.7 355.5h1.9v1.9h-1.9zM481.7 356.8h1.9v1.9h-1.9zM466.1 359.3h1.9v1.9h-1.9zM480.4 359.7h1.9v1.9h-1.9zM463.6 361.5h1.9v1.9h-1.9zM476.1 361.3h1.9v1.9h-1.9zM476.3 363.5h1.9v1.9h-1.9zM460.8 365.1h1.9v1.9h-1.9zM467.8 371.9h1.9v1.9h-1.9zM461.5 373.6h1.9v1.9h-1.9zM491.0 373.8h1.9v1.9h-1.9zM455.3 378.0h1.9v1.9h-1.9zM465.9 378.9h1.9v1.9h-1.9zM503.4 378.1h1.9v1.9h-1.9zM448.3 385.1h1.9v1.9h-1.9zM453.3 384.7h1.9v1.9h-1.9zM437.8 386.2h1.9v1.9h-1.9zM446.5 386.6h1.9v1.9h-1.9zM457.6 390.7h1.9v1.9h-1.9zM429.3 399.3h1.9v1.9h-1.9zM442.1 399.5h1.9v1.9h-1.9zM413.3 408.2h1.9v1.9h-1.9z"/>
<path fill="rgb(192,192,192)" d="M516.3 315.0h1.9v1.9h-1.9zM509.2 317.1h1.9v1.9h-1.9zM499.3 327.9h1.9v1.9h-1.9zM505.0 327.7h1.9v1.9h-1.9zM482.2 344.6h1.9v1.9h-1.9zM486.5 345.3h1.9v1.9h-1.9zM478.3 347.3h1.9v1.9h-1.9zM484.3 346.7h1.9v1.9h-1.9zM478.7 350.6h1.9v1.9h-1.9zM469.7 358.9h1.9v1.9h-1.9zM507.4 359.1h1.9v1.9h-1.9zM463.8 363.6h1.9v1.9h-1.9zM460.8 367.9h1.9v1.9h-1.9zM448.2 374.1h1.9v1.9h-1.9zM452.6 373.5h1.9v1.9h-1.9zM448.7 376.7h1.9v1.9h-1.9zM446.4 378.3h1.9v1.9h-1.9zM444.7 380.2h1.9v1.9h-1.9zM451.1 380.5h1.9v1.9h-1.9zM436.0 386.3h1.9v1.9h-1.9zM442.6 386.5h1.9v1.9h-1.9zM430.1 390.9h1.9v1.9h-1.9zM430.2 393.2h1.9v1.9h-1.9zM432.3 393.6h1.9v1.9h-1.9zM444.7 392.5h1.9v1.9h-1.9zM438.7 394.9h1.9v1.9h-1.9zM427.5 397.3h1.9v1.9h-1.9zM446.5 397.0h1.9v1.9h-1.9zM423.1 398.8h1.9v1.9h-1.9zM438.4 400.9h1.9v1.9h-1.9zM427.3 405.5h1.9v1.9h-1.9zM415.0 408.1h1.9v1.9h-1.9zM412.9 409.4h1.9v1.9h-1.9zM410.5 413.7h1.9v1.9h-1.9zM413.4 416.2h1.9v1.9h-1.9zM441.9 419.7h1.9v1.9h-1.9zM453.5 424.8h1.9v1.9h-1.9z"/>
<path fill="rgb(204,204,204)" d="M496.9 331.7h1.9v1.9h-1.9zM498.6 332.3h1.9v1.9h-1.9zM495.1 338.6h1.9v1.9h-1.9zM484.7 340.7h1.9v1.9h-1.9zM471.5 352.7h1.9v1.9h-1.9zM471.3 361.9h1.9v1.9h-1.9zM459.8 364.2h1.9v1.9h-1.9zM457.3 366.0h1.9v1.9h-1.9zM462.9 365.7h1.9v1.9h-1.9zM459.2 369.8h1.9v1.9h-1.9zM445.0 378.3h1.9v1.9h-1.9zM467.4 378.4h1.9v1.9h-1.9zM440.6 383.0h1.9v1.9h-1.9zM444.6 383.0h1.9v1.9h-1.9zM438.0 384.3h1.9v1.9h-1.9zM440.6 384.9h1.9v1.9h-1.9zM440.9 386.6h1.9v1.9h-1.9zM440.5 388.8h1.9v1.9h-1.9zM446.2 393.5h1.9v1.9h-1.9zM429.5 397.2h1.9v1.9h-1.9zM428.1 399.4h1.9v1.9h-1.9zM435.5 399.5h1.9v1.9h-1.9zM419.7 415.9h1.9v1.9h-1.9zM427.2 416.1h1.9v1.9h-1.9zM398.3 420.4h1.9v1.9h-1.9zM399.9 420.5h1.9v1.9h-1.9zM401.0 422.2h1.9v1.9h-1.9zM431.8 424.6h1.9v1.9h-1.9zM390.4 428.5h1.9v1.9h-1.9zM388.2 431.2h1.9v1.9h-1.9zM390.1 431.3h1.9v1.9h-1.9zM389.4 433.4h1.9v1.9h-1.9zM377.4 441.0h1.9v1.9h-1.9z"/>
<path fill="rgb(216,216,216)" d="M479.6 351.1h1.9v1.9h-1.9zM463.8 368.1h1.9v1.9h-1.9zM453.1 369.6h1.9v1.9h-1.9zM450.5 372.4h1.9v1.9h-1.9zM434.3 388.4h1.9v1.9h-1.9zM423.7 397.5h1.9v1.9h-1.9zM419.7 401.2h1.9v1.9h-1.9zM421.0 401.8h1.9v1.9h-1.9zM410.4 409.7h1.9v1.9h-1.9zM404.0 416.3h1.9v1.9h-1.9zM397.9 422.4h1.9v1.9h-1.9zM402.0 423.0h1.9v1.9h-1.9zM394.0 426.9h1.9v1.9h-1.9z"/>
<path fill="rgb(228,228,228)" d="M461.7 363.1h1.9v1.9h-1.9zM429.8 394.7h1.9v1.9h-1.9zM421.2 434.9h1.9v1.9h-1.9zM383.2 438.9h1.9v1.9h-1.9z"/>
<linearGradient id="bg3" gradientUnits="userSpaceOnUse" x1="369.9" y1="441" x2="515.2" y2="301.6"><stop offset="0" stop-color="#e4e4e4"/><stop offset="0.3" stop-color="#cecece"/><stop offset="0.42" stop-color="#a8a8a8"/><stop offset="0.6" stop-color="#8e8e8e"/><stop offset="0.85" stop-color="#747474"/><stop offset="1" stop-color="#6c6c6c"/></linearGradient>
<polygon points="349.9,446.0 535.2,273.3 535.2,294.7 349.9,467.4" fill="url(#bg3)"/>
<linearGradient id="bp3" gradientUnits="userSpaceOnUse" x1="442.6" y1="359.6" x2="453.2" y2="371.1"><stop offset="0" stop-color="#000" stop-opacity="0.25"/><stop offset="0.5" stop-color="#000" stop-opacity="0.05"/><stop offset="0.75" stop-color="#fff" stop-opacity="0.1"/><stop offset="1" stop-color="#fff" stop-opacity="0.15"/></linearGradient>
<polygon points="349.9,446.0 535.2,273.3 535.2,294.7 349.9,467.4" fill="url(#bp3)"/>
<linearGradient id="cl3" gradientUnits="userSpaceOnUse" x1="369.9" y1="441" x2="515.2" y2="301.6"><stop offset="0" stop-color="#888" stop-opacity="0.55"/><stop offset="0.35" stop-color="#888" stop-opacity="0.4"/><stop offset="0.55" stop-color="#888" stop-opacity="0"/></linearGradient>
<line x1="349.9" y1="457.7" x2="535.2" y2="285.0" stroke="url(#cl3)" stroke-width="1"/>
<line x1="349.9" y1="446.0" x2="535.2" y2="273.3" stroke="#000" stroke-width="0.95"/>
<line x1="349.9" y1="467.4" x2="535.2" y2="294.7" stroke="#000" stroke-width="0.95"/>
</g>
<rect x="369.09999999999997" y="300.8" width="146.90000000000006" height="140.99999999999997" fill="none" stroke="#000" stroke-width="1.8"/>
<text transform="translate(55.6 321.1) scale(0.955 1)" font-size="10.1">PSCDBP</text>
<line x1="98.8" y1="316.6" x2="133.2" y2="317.0" stroke="#000" stroke-width="1.2"/>
<polygon points="145.8,317.2 133.1,323.2 133.3,310.9" fill="#000"/>
<circle cx="153.2" cy="317.2" r="1.8" fill="#1a1a1a"/>
<text transform="translate(161.9 331.3) scale(0.955 1)" font-size="10.1">FOXP1v1</text>
<circle cx="182.3" cy="318.2" r="1.8" fill="#1a1a1a"/>
<text transform="translate(55.6 352.8) scale(0.955 1)" font-size="10.1">FOXP1v2</text>
<line x1="103.5" y1="348.3" x2="123.7" y2="348.9" stroke="#000" stroke-width="1.2"/>
<polygon points="137.3,349.3 123.5,355.0 123.9,342.8" fill="#000"/>
<circle cx="145" cy="349.2" r="1.8" fill="#1a1a1a"/>
<text transform="translate(62.4 388.9) scale(0.955 1)" font-size="10.1">ACVR1C</text>
<circle cx="106.5" cy="385" r="1.8" fill="#1a1a1a"/>
<text transform="translate(153.5 408.3) scale(0.955 1)" font-size="10.1">C15ORF29</text>
<line x1="151.9" y1="403.2" x2="140.1" y2="393.0" stroke="#000" stroke-width="1.2"/>
<polygon points="130.6,384.7 143.9,388.5 136.3,397.4" fill="#000"/>
<line x1="151.9" y1="404.6" x2="116.6" y2="404.9" stroke="#000" stroke-width="1.2"/>
<polygon points="103.5,405.0 116.6,399.0 116.6,410.7" fill="#000"/>
<circle cx="127" cy="380.5" r="1.8" fill="#1a1a1a"/>
<circle cx="96.2" cy="404.6" r="1.8" fill="#1a1a1a"/>
<text transform="translate(217.2 341.2) scale(0.955 1)" font-size="10.1">PSCDBP</text>
<line x1="260.6" y1="336.9" x2="291.2" y2="337.3" stroke="#000" stroke-width="1.2"/>
<polygon points="303.8,337.5 291.1,343.3 291.3,331.4" fill="#000"/>
<circle cx="311" cy="336.9" r="1.8" fill="#1a1a1a"/>
<text transform="translate(318.9 350.2) scale(0.955 1)" font-size="10.1">FOXP1v1</text>
<circle cx="343.2" cy="337.2" r="1.5" fill="#1a1a1a"/>
<text transform="translate(318.9 373.6) scale(0.955 1)" font-size="10.1">FOXP1v2</text>
<line x1="318.5" y1="369" x2="313.0" y2="369.0" stroke="#000" stroke-width="1.2"/>
<polygon points="300.8,369.0 313.0,362.9 313.0,375.1" fill="#000"/>
<circle cx="297.8" cy="369.7" r="1.8" fill="#1a1a1a"/>
<text transform="translate(217.2 373.2) scale(0.955 1)" font-size="10.1">ACVR1C</text>
<line x1="237.5" y1="374.7" x2="250.1" y2="389.3" stroke="#000" stroke-width="1.2"/>
<polygon points="258.3,398.9 245.4,393.4 254.8,385.3" fill="#000"/>
<circle cx="263.1" cy="391.7" r="1.8" fill="#1a1a1a"/>
<circle cx="260.8" cy="404.1" r="1.8" fill="#1a1a1a"/>
<text transform="translate(302.6 420.1) scale(0.955 1)" font-size="10.1">C15ORF29</text>
<line x1="300.5" y1="414.9" x2="277.3" y2="400.4" stroke="#000" stroke-width="1.2"/>
<polygon points="266.6,393.7 280.4,395.4 274.2,405.3" fill="#000"/>
<line x1="300.5" y1="415.8" x2="277.9" y2="411.1" stroke="#000" stroke-width="1.2"/>
<polygon points="265.6,408.5 279.1,405.4 276.7,416.8" fill="#000"/>
<text transform="translate(372.6 345.6) scale(0.955 1)" font-size="10.1">PSCDBP</text>
<line x1="414.6" y1="342.5" x2="450.3" y2="343.5" stroke="#000" stroke-width="1.2"/>
<polygon points="463.4,343.9 450.1,349.3 450.5,337.8" fill="#000"/>
<circle cx="467.8" cy="343.9" r="1.8" fill="#1a1a1a"/>
<text transform="translate(372.6 356.5) scale(0.955 1)" font-size="10.1">FOXP1v2</text>
<line x1="417" y1="352.1" x2="448.8" y2="352.6" stroke="#000" stroke-width="1.2"/>
<polygon points="461.4,352.8 448.7,358.6 448.9,346.7" fill="#000"/>
<circle cx="466.2" cy="353.5" r="1.8" fill="#1a1a1a"/>
<text transform="translate(372.6 366.7) scale(0.955 1)" font-size="10.1">ACVR1C</text>
<line x1="392.5" y1="368.4" x2="405.3" y2="381.6" stroke="#000" stroke-width="1.2"/>
<polygon points="414.1,390.6 400.9,385.9 409.7,377.3" fill="#000"/>
<circle cx="430.6" cy="380.5" r="1.8" fill="#1a1a1a"/>
<circle cx="426.7" cy="384.5" r="1.8" fill="#1a1a1a"/>
<circle cx="418.8" cy="394" r="1.8" fill="#1a1a1a"/>
<text transform="translate(462 380.5) scale(0.955 1)" font-size="10.1">FOXP1v1</text>
<circle cx="482" cy="369.1" r="1.8" fill="#1a1a1a"/>
<text transform="translate(459.5 415.2) scale(0.955 1)" font-size="10.1">C15ORF29</text>
<line x1="456" y1="408" x2="440" y2="394.5" stroke="#000" stroke-width="1.1"/>
<line x1="458.5" y1="405.8" x2="443" y2="392" stroke="#000" stroke-width="1.1"/>
<polygon points="431.5,386.5 446.7,391.0 436.9,401.4" fill="#000"/>
</svg>
</body></html>
